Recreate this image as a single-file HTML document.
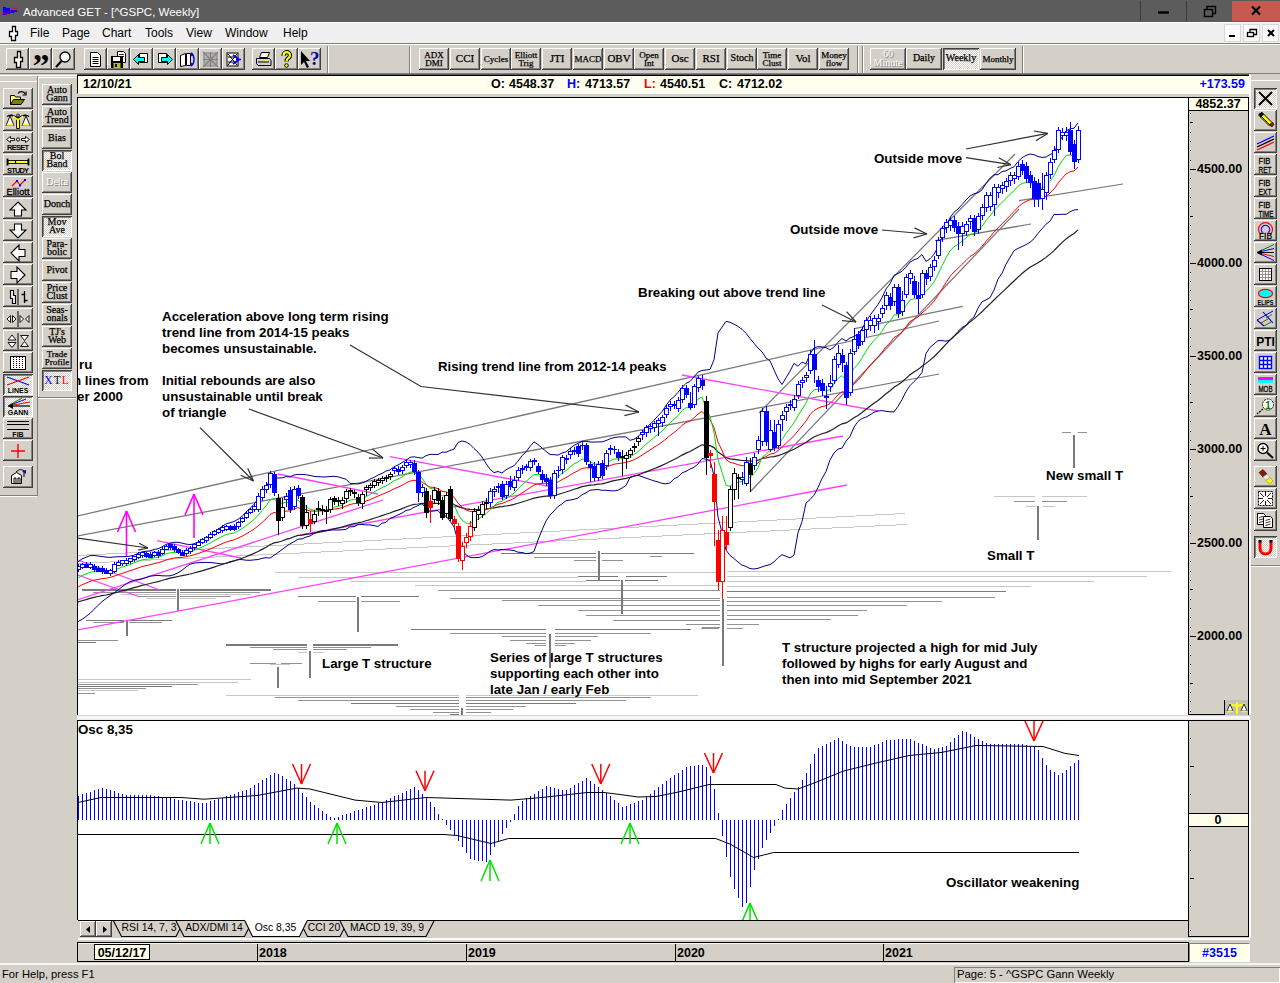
<!DOCTYPE html><html><head><meta charset="utf-8"><title>Advanced GET - [^GSPC, Weekly]</title><style>
*{box-sizing:border-box;margin:0;padding:0}
html,body{width:1280px;height:983px;overflow:hidden;background:#d4d0c8;font-family:"Liberation Sans",Arial,sans-serif;font-size:12px;color:#000}
#app{position:relative;width:1280px;height:983px;overflow:hidden;background:#d4d0c8}
#app div{position:absolute}
#app svg{position:absolute;left:0;top:0;display:block}
.b{background:#d4d0c8;box-shadow:inset -1px -1px 0 #404040,inset 1px 1px 0 #fff,inset -2px -2px 0 #808080;display:flex;align-items:center;justify-content:center;text-align:center}
.b.p{background:#ecebe6 repeating-conic-gradient(#fff 0 25%,#d4d0c8 0 50%) 0 0/2px 2px;box-shadow:inset 1px 1px 0 #404040,inset -1px -1px 0 #fff,inset 2px 2px 0 #808080}
.b svg,.b span{position:static!important}
.t{-webkit-text-stroke:0.25px #000;font-family:"Liberation Serif","DejaVu Serif",serif;font-size:10px;line-height:8.5px;letter-spacing:0;padding-bottom:1px;color:#000;white-space:nowrap}
.t.s{font-size:9px;line-height:8px}
.t.l{font-size:11px}
.t.m{font-size:10px}
.g{color:#fff;-webkit-text-stroke:0 #fff;text-shadow:1px 1px 0 #808080;}
.mi{font-size:12px;top:26px;height:16px;white-space:nowrap;font-family:"Liberation Sans",Arial,sans-serif}
.ib{font-weight:bold;font-size:12.5px;top:77px;height:15px;line-height:15px;white-space:nowrap}
.ax{font-weight:bold;font-size:12.5px;white-space:nowrap;height:14px;line-height:14px}
.sunk{box-shadow:inset 1px 1px 0 #808080,inset -1px -1px 0 #fff}
.rais{box-shadow:inset 1px 1px 0 #fff,inset -1px -1px 0 #808080}
</style></head><body><div id="app">
<div class="" style="left:0px;top:0px;width:1280px;height:22px;background:#5c5c5c"></div><div class="" style="left:0px;top:22px;width:1280px;height:1px;background:#fdfdfd"></div><svg width="20" height="22" style="left:0;top:0"><polygon points="3,7 6,7 6,8 10,8 10,10 17,10 17,12 14,12 14,13 10,13 10,14 7,14 7,15 3,15" fill="#0000ff"/><polyline points="2,14.5 4.5,12.5 6.5,14.5 13.5,7.5 15.5,9.5 17.5,7.5" fill="none" stroke="#ff0000" stroke-width="1.2" stroke-dasharray="1.2,0.6"/></svg><div class="" style="left:23px;top:4px;width:300px;height:16px;color:#fff;font-size:11.5px;line-height:16px;white-space:nowrap">Advanced GET - [^GSPC, Weekly]</div><div class="" style="left:1140px;top:1px;width:46px;height:20px;background:#5c5c5c;border-left:1px solid #3a3a3a"></div><div class="" style="left:1186px;top:1px;width:46px;height:20px;background:#5c5c5c;border-left:1px solid #3a3a3a"></div><div class="" style="left:1232px;top:1px;width:48px;height:20px;background:#c75a50"></div><svg width="140" height="22" style="left:1140px;top:0"><g stroke="#000" stroke-width="1.6" fill="none"><line x1="18" y1="12.5" x2="29" y2="12.5" stroke-width="2.4"/><rect x="64.5" y="9.5" width="8" height="7" stroke-width="1.4"/><polyline points="67,9 67,6.5 75.5,6.5 75.5,13.5 73,13.5" stroke-width="1.4"/><path d="M112 6.5 L120 14.5 M120 6.5 L112 14.5" stroke-width="2.2"/></g></svg>
<div class="" style="left:0px;top:23px;width:1280px;height:20px;background:#f0f0f0"></div><svg width="20" height="20" style="left:4px;top:23px"><path d="M8.500 3.500h3v5h2v4h-2v5h-4v-4h-2v-5h3z" fill="#fff" stroke="#000" stroke-width="1.300"/></svg><div class="mi" style="left:30px">File</div><div class="mi" style="left:62px">Page</div><div class="mi" style="left:102px">Chart</div><div class="mi" style="left:145px">Tools</div><div class="mi" style="left:186px">View</div><div class="mi" style="left:225px">Window</div><div class="mi" style="left:283px">Help</div><div class="" style="left:1224px;top:24px;width:17px;height:18px;background:#fafafa;border:1px solid #d8d8d8"></div><div class="" style="left:1243px;top:24px;width:17px;height:18px;background:#fafafa;border:1px solid #d8d8d8"></div><div class="" style="left:1262px;top:24px;width:17px;height:18px;background:#fafafa;border:1px solid #d8d8d8"></div><svg width="60" height="20" style="left:1224px;top:24px"><g stroke="#000" fill="none" stroke-width="1.6"><line x1="5" y1="12" x2="11" y2="12" stroke-width="2"/><rect x="23.5" y="8.5" width="6" height="4" stroke-width="1.3"/><polyline points="26,8 26,5.5 32.5,5.5 32.5,10.5 30,10.5" stroke-width="1.3"/><path d="M44 6 L50 12 M50 6 L44 12" stroke-width="2"/></g></svg>
<div class="" style="left:0px;top:43px;width:1280px;height:1px;background:#808080"></div><div class="" style="left:0px;top:44px;width:1280px;height:1px;background:#fff"></div><div class="" style="left:0px;top:73px;width:1280px;height:1px;background:#808080"></div><div class="" style="left:0px;top:75px;width:77px;height:1px;background:#fff"></div><div class="" style="left:77px;top:74px;width:1172px;height:1px;background:#5a5a5a"></div><div class="" style="left:327px;top:46px;width:1px;height:27px;background:#808080"></div><div class="" style="left:328px;top:46px;width:1px;height:27px;background:#fff"></div><div class="" style="left:409px;top:46px;width:1px;height:27px;background:#808080"></div><div class="" style="left:410px;top:46px;width:1px;height:27px;background:#fff"></div><div class="" style="left:857px;top:46px;width:1px;height:27px;background:#808080"></div><div class="" style="left:858px;top:46px;width:1px;height:27px;background:#fff"></div><div class="" style="left:862px;top:46px;width:1px;height:27px;background:#808080"></div><div class="" style="left:863px;top:46px;width:1px;height:27px;background:#fff"></div><div class="" style="left:1022px;top:46px;width:1px;height:27px;background:#808080"></div><div class="" style="left:1023px;top:46px;width:1px;height:27px;background:#fff"></div><div class="b" style="left:6px;top:48px;width:23px;height:22px;"><svg width="17" height="19" viewBox="0 0 17 19"><path d="M8.5 1.500h3v6h2v4h-2v6h-4v-5h-2v-5h3z" fill="#fff" stroke="#000" stroke-width="1.300"/></svg></div><div class="b" style="left:29px;top:48px;width:23px;height:22px;"><svg width="19" height="19" viewBox="0 0 19 19"><text x="1.500" y="27" font-family="Liberation Serif,serif" font-weight="bold" font-size="34">”</text></svg></div><div class="b" style="left:52px;top:48px;width:23px;height:22px;"><svg width="19" height="19" viewBox="0 0 19 19"><circle cx="11" cy="7" r="5" fill="#fff" stroke="#000" stroke-width="1.3"/><line x1="7.5" y1="11" x2="2" y2="17" stroke="#000" stroke-width="2"/></svg></div><div class="b" style="left:84px;top:48px;width:23px;height:22px;"><svg width="17" height="17" viewBox="0 0 17 17"><path d="M3.5 1.5 h7 l3 3 v11 h-10z" fill="#fff" stroke="#000"/><path d="M5.5 6.5h6M5.5 8.5h6M5.5 10.5h6M5.5 12.5h6" stroke="#000"/></svg></div><div class="b" style="left:107px;top:48px;width:23px;height:22px;"><svg width="19" height="19" viewBox="0 0 19 19"><path d="M8.500 1.500h6l2 2v9h-8z" fill="#fff" stroke="#000"/><path d="M10 4.500h5M10 6.500h5" stroke="#000" stroke-width=".8"/><rect x="2" y="6" width="12" height="12" fill="#000"/><rect x="4" y="7" width="7" height="4" fill="#fff"/><rect x="4.500" y="13" width="7" height="5" fill="#c0c000"/><rect x="6" y="14" width="2" height="3" fill="#000"/></svg></div><div class="b" style="left:130px;top:48px;width:23px;height:22px;"><svg width="19" height="19" viewBox="0 0 19 19"><path d="M7.5 3.5h8v9h-8z" fill="#fff" stroke="#000"/><path d="M1.5 9.5l5-5v3h6v4h-6v3z" fill="#00ffff" stroke="#000"/></svg></div><div class="b" style="left:153px;top:48px;width:23px;height:22px;"><svg width="19" height="19" viewBox="0 0 19 19"><path d="M3.5 3.5h8v9h-8z" fill="#fff" stroke="#000"/><path d="M17.5 9.5l-5-5v3h-6v4h6v3z" fill="#00ffff" stroke="#000"/></svg></div><div class="b" style="left:176px;top:48px;width:23px;height:22px;"><svg width="19" height="19" viewBox="0 0 19 19"><path d="M2.5 5.5l5-2v12l-5 1z" fill="#fff" stroke="#000"/><path d="M8.5 3.5h4v12h-4z" fill="#fff" stroke="#000"/><path d="M13 3c4 2 4 11 0 13M13 3l1 3M13 16l1-3" stroke="#0000ff" fill="none" stroke-width="1.4"/></svg></div><div class="b" style="left:199px;top:48px;width:23px;height:22px;"><svg width="19" height="19" viewBox="0 0 19 19"><rect x="3" y="3" width="13" height="13" fill="#b0b0b0" stroke="#808080"/><path d="M2 2l15 15M17 2l-15 15M9.5 2v15M2 9.5h15" stroke="#808080" stroke-width="1.2"/></svg></div><div class="b" style="left:222px;top:48px;width:23px;height:22px;"><svg width="19" height="19" viewBox="0 0 19 19"><rect x="3" y="3" width="11" height="13" fill="#fff" stroke="#000"/><path d="M4 4l9 11M13 4l-9 11M4 7h9M4 12h9" stroke="#000" stroke-width="1"/><path d="M9 5l6 4.5-6 4.5M12 9.5h5" stroke="#0000ff" stroke-width="1.6" fill="none"/></svg></div><div class="b" style="left:252px;top:48px;width:23px;height:22px;"><svg width="19" height="19" viewBox="0 0 19 19"><path d="M5.5 7.5l2-5h8l-2 5z" fill="#fff" stroke="#000"/><path d="M2.5 8.5h13l1.5 2v5h-13l-1.5-2z" fill="#d0d0d0" stroke="#000"/><path d="M4 12h11" stroke="#000"/><rect x="11" y="10" width="3" height="1" fill="#ffff00"/></svg></div><div class="b" style="left:275px;top:48px;width:23px;height:22px;"><svg width="15" height="19" viewBox="0 0 15 19"><path d="M4.500 6c0-5 6.500-5 6.500-.5 0 2.500-3.500 2.500-3.500 6" fill="none" stroke="#000" stroke-width="4.200"/><path d="M4.500 6c0-5 6.500-5 6.500-.5 0 2.500-3.500 2.500-3.500 6" fill="none" stroke="#ffff00" stroke-width="2.200"/><circle cx="7.500" cy="15.500" r="1.800" fill="#ffff00" stroke="#000"/></svg></div><div class="b" style="left:298px;top:48px;width:23px;height:22px;"><svg width="21" height="19" viewBox="0 0 21 19"><path d="M2 1v14l3-3 3 6 2-1-3-6h4z" fill="#000"/><text x="11" y="15" font-family="Liberation Serif,serif" font-weight="bold" font-size="19" fill="#0000a0">?</text></svg></div><div class="b" style="left:419px;top:48px;width:30px;height:22px;"><span class="t s">ADX<br>DMI</span></div><div class="b" style="left:450px;top:48px;width:30px;height:22px;"><span class="t l">CCI</span></div><div class="b" style="left:481px;top:48px;width:30px;height:22px;"><span class="t s">Cycles</span></div><div class="b" style="left:511px;top:48px;width:30px;height:22px;"><span class="t s">Elliott<br>Trig</span></div><div class="b" style="left:542px;top:48px;width:30px;height:22px;"><span class="t l">JTI</span></div><div class="b" style="left:573px;top:48px;width:30px;height:22px;"><span class="t s">MACD</span></div><div class="b" style="left:604px;top:48px;width:30px;height:22px;"><span class="t l">OBV</span></div><div class="b" style="left:634px;top:48px;width:30px;height:22px;"><span class="t s">Open<br>Int</span></div><div class="b" style="left:665px;top:48px;width:30px;height:22px;"><span class="t l">Osc</span></div><div class="b" style="left:696px;top:48px;width:30px;height:22px;"><span class="t l">RSI</span></div><div class="b" style="left:727px;top:48px;width:30px;height:22px;"><span class="t ">Stoch</span></div><div class="b" style="left:757px;top:48px;width:30px;height:22px;"><span class="t s">Time<br>Clust</span></div><div class="b" style="left:788px;top:48px;width:30px;height:22px;"><span class="t l">Vol</span></div><div class="b" style="left:819px;top:48px;width:30px;height:22px;"><span class="t s">Money<br>flow</span></div><div class="b " style="left:870px;top:48px;width:36px;height:22px;"><span class="t g">60<br>Minute</span></div><div class="b " style="left:906px;top:48px;width:36px;height:22px;"><span class="t ">Daily</span></div><div class="b p" style="left:943px;top:48px;width:36px;height:22px;"><span class="t ">Weekly</span></div><div class="b " style="left:980px;top:48px;width:36px;height:22px;"><span class="t s">Monthly</span></div>
<div class="" style="left:77px;top:75px;width:1174px;height:19px;background:#fffff0;border-left:1px solid #000;border-top:1px solid #000;border-right:2px solid #fff;border-bottom:1px solid #fff"></div><div class="ib" style="left:83px;color:#000">12/10/21</div><div class="ib" style="left:491px;color:#000">O:</div><div class="ib" style="left:509px;color:#000">4548.37</div><div class="ib" style="left:567px;color:#0000ff">H:</div><div class="ib" style="left:585px;color:#000">4713.57</div><div class="ib" style="left:644px;color:#ff0000">L:</div><div class="ib" style="left:660px;color:#000">4540.51</div><div class="ib" style="left:719px;color:#000">C:</div><div class="ib" style="left:737px;color:#000">4712.02</div><div class="ib" style="left:1145px;width:100px;text-align:right;color:#0000ff">+173.59</div>
<div class="" style="left:0px;top:81px;width:37px;height:1px;background:#fff"></div><div class="" style="left:37px;top:76px;width:1px;height:420px;background:#808080"></div><div class="" style="left:0px;top:495px;width:37px;height:1px;background:#808080"></div><div class="" style="left:0px;top:496px;width:37px;height:1px;background:#fff"></div><div class="" style="left:38px;top:77px;width:38px;height:1px;background:#fff"></div><div class="" style="left:38px;top:77px;width:1px;height:321px;background:#fff"></div><div class="" style="left:38px;top:397px;width:38px;height:1px;background:#808080"></div><div class="" style="left:38px;top:398px;width:38px;height:1px;background:#fff"></div><div class="b" style="left:3px;top:88px;width:30px;height:21px;"><svg width="24" height="18" viewBox="0 0 24 18"><path d="M4.500 14.500v-9h4l1 1.500h5v3" fill="#ffff80" stroke="#000"/><path d="M4.500 14.500l3-5h11l-3.500 5z" fill="#808000" stroke="#000"/><path d="M12 3.500c2-3 6-2 7 .5" fill="none" stroke="#000" stroke-width="1.200"/><path d="M20 1.500v3.500h-3.500" fill="none" stroke="#000" stroke-width="1.200"/></svg></div><div class="b" style="left:3px;top:110px;width:30px;height:21px;"><svg width="28" height="18" viewBox="0 0 28 18"><path d="M12.500 7v9.500h3v-9.500" fill="#ffff00" stroke="#000" stroke-width=".9"/><path d="M3 4.500c3-2.500 6-1.500 11 1.500 5-3 8-4 11-1.500" stroke="#000" fill="none" stroke-width="1.300"/><path d="M9 4l5 4 5-4" stroke="#ffff00" stroke-width="1.600" fill="none"/><path d="M6 4l-4 9.500h8zM22 4l-4 9.500h8z" fill="#fff" stroke="#000" stroke-width=".9"/><path d="M2.500 13h7M18.500 13h7" stroke="#ffff00" stroke-width="1.600"/><circle cx="14" cy="3.500" r="1.600" fill="#808080" stroke="#000" stroke-width=".6"/></svg></div><div class="b" style="left:3px;top:132px;width:30px;height:21px;"><svg width="28" height="18" viewBox="0 0 28 18"><path d="M2.500 5.500l4-3v2h4v2h-4v2zM25.500 5.500l-4-3v2h-4v2h4v2z" fill="#fff" stroke="#000" stroke-width=".9"/><circle cx="14" cy="5.500" r="1.600" fill="#fff" stroke="#000"/><text x="14" y="16" text-anchor="middle" font-family="Liberation Sans,sans-serif" font-weight="bold" font-size="7.500" textLength="22">RESET</text></svg></div><div class="b" style="left:3px;top:154px;width:30px;height:21px;"><svg width="28" height="18" viewBox="0 0 28 18"><rect x="4" y="4.500" width="20" height="3" fill="#ffff00" stroke="#000" stroke-width=".9"/><path d="M3.500 2.500v7M24.500 2.500v7" stroke="#000" stroke-width="1.800"/><path d="M11.500 4.500v3" stroke="#000" stroke-width="1.200"/><text x="14" y="16.500" text-anchor="middle" font-family="Liberation Sans,sans-serif" font-weight="bold" font-size="7.500" textLength="22">STUDY</text></svg></div><div class="b" style="left:3px;top:176px;width:30px;height:21px;"><svg width="28" height="18" viewBox="0 0 28 18"><polyline points="8,8 13,3 16,7 21,2" fill="none" stroke="#ff0000" stroke-width="1.200"/><rect x="12" y="2" width="2" height="2" fill="#0000ff"/><rect x="15" y="6.500" width="2" height="2" fill="#0000ff"/><rect x="20" y="1" width="2" height="2" fill="#0000ff"/><text x="14" y="17" text-anchor="middle" font-family="Liberation Sans,sans-serif" font-size="9" stroke="#000" stroke-width=".35" textLength="23">Elliott</text></svg></div><div class="b" style="left:3px;top:198px;width:30px;height:21px;"><svg width="24" height="18" viewBox="0 0 24 18"><path d="M12 2l8 8h-4.500v6h-7v-6h-4.500z" fill="#fff" stroke="#000" stroke-width="1.100" transform="rotate(0 12 9)"/></svg></div><div class="b" style="left:3px;top:220px;width:30px;height:21px;"><svg width="24" height="18" viewBox="0 0 24 18"><path d="M12 2l8 8h-4.500v6h-7v-6h-4.500z" fill="#fff" stroke="#000" stroke-width="1.100" transform="rotate(180 12 9)"/></svg></div><div class="b" style="left:3px;top:242px;width:30px;height:21px;"><svg width="24" height="18" viewBox="0 0 24 18"><path d="M12 2l8 8h-4.500v6h-7v-6h-4.500z" fill="#fff" stroke="#000" stroke-width="1.100" transform="rotate(270 12 9)"/></svg></div><div class="b" style="left:3px;top:264px;width:30px;height:21px;"><svg width="24" height="18" viewBox="0 0 24 18"><path d="M12 2l8 8h-4.500v6h-7v-6h-4.500z" fill="#fff" stroke="#000" stroke-width="1.100" transform="rotate(90 12 9)"/></svg></div><div class="b" style="left:3px;top:286px;width:30px;height:21px;"><svg width="26" height="18" viewBox="0 0 26 18"><path d="M5.500 2.500h3v5h2v8h-3v-5h-2z" fill="#fff" stroke="#000" stroke-width="1.200"/><path d="M13 1v16" stroke="#000"/><path d="M19.500 3v12M16.500 6.500h3M19.500 12.500h3" stroke="#000" stroke-width="1.300" fill="none"/></svg></div><div class="b" style="left:3px;top:308px;width:30px;height:21px;"><svg width="26" height="18" viewBox="0 0 26 18"><path d="M13 1v16" stroke="#000"/><path d="M2 9l3.500-3.500v7zM11 9l-3.500-3.500v7zM15 5.500v7l3.500-3.500zM24 5.500v7l-3.500-3.500z" fill="#fff" stroke="#000" stroke-width=".9"/></svg></div><div class="b" style="left:3px;top:330px;width:30px;height:21px;"><svg width="26" height="18" viewBox="0 0 26 18"><path d="M13 1v16" stroke="#000"/><path d="M3 8l4-5 4 5zM3 10.500l4 5 4-5z" fill="#fff" stroke="#000" stroke-width=".9"/><path d="M15.500 3.500h8l-4 5zM15.500 14.500h8l-4-5z" fill="#fff" stroke="#000" stroke-width=".9"/></svg></div><div class="b" style="left:3px;top:352px;width:30px;height:21px;"><svg width="24" height="18" viewBox="0 0 24 18"><rect x="4.500" y="2.500" width="15" height="13" fill="#fff" stroke="#000"/><path d="M7.500 3v12M10.500 3v12M13.500 3v12M16.500 3v12" stroke="#000" stroke-dasharray="1,1"/></svg></div><div class="b p" style="left:3px;top:374px;width:30px;height:21px;"><svg width="28" height="19" viewBox="0 0 28 19"><path d="M3 2l22 8" stroke="#0000ff" stroke-width="1.200"/><path d="M3 10l22-8" stroke="#ff0000" stroke-width="1.200"/><text x="14" y="17.500" text-anchor="middle" font-family="Liberation Sans,sans-serif" font-weight="bold" font-size="7">LINES</text></svg></div><div class="b p" style="left:3px;top:396px;width:30px;height:21px;"><svg width="28" height="19" viewBox="0 0 28 19"><path d="M4 9h22" stroke="#000" stroke-width="1.200"/><path d="M4 9l18-7" stroke="#0000ff"/><path d="M4 9l22-4" stroke="#ff0000"/><path d="M4 9l14-8" stroke="#008000"/><path d="M4 9l5-3v6z" fill="#000"/><text x="14" y="18" text-anchor="middle" font-family="Liberation Sans,sans-serif" font-weight="bold" font-size="7">GANN</text></svg></div><div class="b" style="left:3px;top:418px;width:30px;height:21px;"><svg width="28" height="19" viewBox="0 0 28 19"><path d="M3 2.500h22M3 5.500h22M3 10.500h22" stroke="#000" stroke-width="1.100"/><text x="14" y="17.500" text-anchor="middle" font-family="Liberation Sans,sans-serif" font-weight="bold" font-size="7">FIB</text></svg></div><div class="b" style="left:3px;top:440px;width:30px;height:21px;"><svg width="24" height="18" viewBox="0 0 24 18"><path d="M12 2v14M5 9h14" stroke="#ff0000" stroke-width="1.400"/></svg></div><div class="b" style="left:3px;top:466px;width:30px;height:22px;"><svg width="24" height="18" viewBox="0 0 24 18"><path d="M5.500 15.500v-8l5-3 5 3v8z" fill="#fff" stroke="#000"/><path d="M8 15v-5h2v5M12 15v-5h2v5" stroke="#000" fill="none"/><path d="M10 4c3-3 6-3 8-1v6" stroke="#000" fill="none"/><path d="M16 3l4-1v4z" fill="#0000c0"/></svg></div><div class="b " style="left:42px;top:84px;width:30px;height:21px;"><span class="t ">Auto<br>Gann</span></div><div class="b " style="left:42px;top:106px;width:30px;height:21px;"><span class="t ">Auto<br>Trend</span></div><div class="b " style="left:42px;top:128px;width:30px;height:21px;"><span class="t m">Bias</span></div><div class="b p" style="left:42px;top:150px;width:30px;height:21px;"><span class="t ">Bol<br>Band</span></div><div class="b " style="left:42px;top:172px;width:30px;height:21px;"><span class="t m g">Delta</span></div><div class="b " style="left:42px;top:194px;width:30px;height:21px;"><span class="t m">Donch</span></div><div class="b p" style="left:42px;top:216px;width:30px;height:21px;"><span class="t ">Mov<br>Ave</span></div><div class="b " style="left:42px;top:238px;width:30px;height:21px;"><span class="t ">Para-<br>bolic</span></div><div class="b " style="left:42px;top:260px;width:30px;height:21px;"><span class="t m">Pivot</span></div><div class="b " style="left:42px;top:282px;width:30px;height:21px;"><span class="t ">Price<br>Clust</span></div><div class="b " style="left:42px;top:304px;width:30px;height:21px;"><span class="t ">Seas-<br>onals</span></div><div class="b " style="left:42px;top:326px;width:30px;height:21px;"><span class="t ">TJ's<br>Web</span></div><div class="b " style="left:42px;top:348px;width:30px;height:21px;"><span class="t s">Trade<br>Profile</span></div><div class="b p" style="left:42px;top:370px;width:30px;height:21px;"><span class="t" style="font-size:11.5px;letter-spacing:1px;-webkit-text-stroke:0"><span style="color:#0000ff">X</span>T<span style="color:#ff0000">L</span></span></div>
<div class="" style="left:1249px;top:74px;width:2px;height:641px;background:#fff"></div><div class="" style="left:1251px;top:80px;width:29px;height:1px;background:#fff"></div><div class="" style="left:1251px;top:565px;width:29px;height:1px;background:#808080"></div><div class="" style="left:1251px;top:566px;width:29px;height:1px;background:#fff"></div><div class="b p" style="left:1254px;top:88px;width:23px;height:21px;"><svg width="23" height="19" viewBox="0 0 23 19"><path d="M5 3l13 13M18 3l-13 13" stroke="#000" stroke-width="2"/></svg></div><div class="b" style="left:1254px;top:110px;width:23px;height:21px;"><svg width="23" height="19" viewBox="0 0 23 19"><path d="M5 3.500l3-2 10 10-3 3-10-10z" fill="#ffff00" stroke="#000"/><path d="M4.500 3l3.500-2 2 2.500-3.500 3z" fill="#000"/><path d="M15.500 14l3-3 1.500 2.500-2 2.500z" fill="#802000" stroke="#000" stroke-width=".5"/><path d="M7 5l9.500 9.500" stroke="#000" stroke-width=".8"/></svg></div><div class="b" style="left:1254px;top:132px;width:23px;height:21px;"><svg width="23" height="19" viewBox="0 0 23 19"><path d="M3 11l17-8" stroke="#0000ff" stroke-width="1.300"/><path d="M3 14l17-8" stroke="#000" stroke-width="1.300"/><path d="M3 17l17-8" stroke="#ff0000" stroke-width="1.300"/></svg></div><div class="b" style="left:1254px;top:154px;width:23px;height:21px;"><svg width="23" height="19" viewBox="0 0 23 19"><text x="4.500" y="9" font-family="Liberation Sans,sans-serif" stroke="#000" stroke-width=".3" font-size="9" textLength="12" lengthAdjust="spacingAndGlyphs">FIB</text><text x="4.500" y="17.500" font-family="Liberation Sans,sans-serif" stroke="#000" stroke-width=".3" font-size="9" textLength="13" lengthAdjust="spacingAndGlyphs">RET</text></svg></div><div class="b" style="left:1254px;top:176px;width:23px;height:21px;"><svg width="23" height="19" viewBox="0 0 23 19"><text x="4.500" y="9" font-family="Liberation Sans,sans-serif" stroke="#000" stroke-width=".3" font-size="9" textLength="12" lengthAdjust="spacingAndGlyphs">FIB</text><text x="4.500" y="17.500" font-family="Liberation Sans,sans-serif" stroke="#000" stroke-width=".3" font-size="9" textLength="13" lengthAdjust="spacingAndGlyphs">EXT</text></svg></div><div class="b" style="left:1254px;top:198px;width:23px;height:21px;"><svg width="23" height="19" viewBox="0 0 23 19"><text x="4.500" y="9" font-family="Liberation Sans,sans-serif" stroke="#000" stroke-width=".3" font-size="9" textLength="12" lengthAdjust="spacingAndGlyphs">FIB</text><text x="4.500" y="17.500" font-family="Liberation Sans,sans-serif" stroke="#000" stroke-width=".3" font-size="9" textLength="15" lengthAdjust="spacingAndGlyphs">TIME</text></svg></div><div class="b" style="left:1254px;top:220px;width:23px;height:21px;"><svg width="23" height="19" viewBox="0 0 23 19"><path d="M6.500 13.500a7 7 0 1 1 10 0" fill="none" stroke="#ff0000" stroke-width="1.200"/><path d="M8.500 11.500a4.200 4.200 0 1 1 6 0" fill="none" stroke="#0000ff" stroke-width="1.200"/><text x="5" y="17.500" font-family="Liberation Sans,sans-serif" stroke="#000" stroke-width=".3" font-size="9" textLength="13" lengthAdjust="spacingAndGlyphs">FIB</text></svg></div><div class="b" style="left:1254px;top:242px;width:23px;height:21px;"><svg width="23" height="19" viewBox="0 0 23 19"><path d="M3 9.500l17-8" stroke="#008000"/><path d="M3 9.500l17-4" stroke="#0000ff"/><path d="M3 9.500h17" stroke="#000"/><path d="M3 9.500l17 4" stroke="#ff0000"/><path d="M3 9.500l17 8" stroke="#0000ff"/><path d="M3 9.500l5-3v6z" fill="#000"/></svg></div><div class="b" style="left:1254px;top:264px;width:23px;height:21px;"><svg width="23" height="19" viewBox="0 0 23 19"><rect x="5.500" y="3.500" width="12" height="12" fill="#fff" stroke="#000"/><path d="M8.500 4v11M11.500 4v11M14.500 4v11M6 6.500h11M6 9.500h11M6 12.500h11" stroke="#808080" stroke-width=".8"/></svg></div><div class="b" style="left:1254px;top:286px;width:23px;height:21px;"><svg width="23" height="19" viewBox="0 0 23 19"><ellipse cx="11.500" cy="6.500" rx="7" ry="4.200" fill="#00ffff" stroke="#ff0000" stroke-width="1.200"/><text x="3.500" y="18" font-family="Liberation Sans,sans-serif" font-weight="bold" font-size="7" textLength="16" lengthAdjust="spacingAndGlyphs">ELIPS</text></svg></div><div class="b" style="left:1254px;top:308px;width:23px;height:21px;"><svg width="23" height="19" viewBox="0 0 23 19"><path d="M9 3l10 11M3 11l7 6" stroke="#0000c0" stroke-width="1.100"/><path d="M3 11l16-9" stroke="#0000c0" stroke-width="1"/><path d="M7 14l7-4" stroke="#804000" stroke-width="1"/><path d="M10 17l7-4" stroke="#008000" stroke-width="1"/><path d="M12 9l6-3.500" stroke="#008080" stroke-width="1"/></svg></div><div class="b" style="left:1254px;top:330px;width:23px;height:21px;"><svg width="23" height="19" viewBox="0 0 23 19"><text x="11.500" y="14.500" text-anchor="middle" font-family="Liberation Sans,sans-serif" font-weight="bold" font-size="12">PTI</text></svg></div><div class="b" style="left:1254px;top:352px;width:23px;height:21px;"><svg width="23" height="19" viewBox="0 0 23 19"><rect x="5.500" y="3.500" width="12" height="12" fill="#ffffc0" stroke="#0000ff" stroke-width="1.400"/><path d="M9.500 4v11M13.500 4v11M6 7.500h11M6 11.500h11" stroke="#0000ff" stroke-width="1.300"/></svg></div><div class="b" style="left:1254px;top:374px;width:23px;height:21px;"><svg width="23" height="19" viewBox="0 0 23 19"><rect x="4" y="2" width="15" height="3" fill="#ff00ff"/><rect x="4" y="5" width="15" height="3" fill="#00ffff"/><text x="4.500" y="17" font-family="Liberation Sans,sans-serif" stroke="#000" stroke-width=".3" font-size="9" textLength="14" lengthAdjust="spacingAndGlyphs">MOB</text></svg></div><div class="b" style="left:1254px;top:396px;width:23px;height:21px;"><svg width="23" height="19" viewBox="0 0 23 19"><circle cx="14" cy="7.500" r="5.500" fill="#fff" stroke="#000" stroke-dasharray="2,1"/><text x="14" y="11.500" text-anchor="middle" font-family="Liberation Sans,sans-serif" font-weight="bold" font-size="10" fill="#008000">1</text><path d="M9 12l-6 5" stroke="#000" stroke-width="1.300" stroke-dasharray="2,1"/></svg></div><div class="b" style="left:1254px;top:418px;width:23px;height:21px;"><svg width="23" height="19" viewBox="0 0 23 19"><text x="11.500" y="16" text-anchor="middle" font-family="Liberation Serif,serif" font-weight="bold" font-size="17">A</text></svg></div><div class="b" style="left:1254px;top:440px;width:23px;height:21px;"><svg width="23" height="19" viewBox="0 0 23 19"><circle cx="9" cy="7.500" r="5" fill="#fff" stroke="#000" stroke-width="1.300"/><path d="M6.500 7.500h5M9 5v5" stroke="#000"/><path d="M13 11.500l6 5.500" stroke="#000" stroke-width="2"/></svg></div><div class="b" style="left:1254px;top:466px;width:23px;height:21px;"><svg width="23" height="19" viewBox="0 0 23 19"><path d="M5 5.500l4-3 4 4.500-4 3z" fill="#802000" stroke="#400000" stroke-width=".6"/><path d="M9 10l4-3 3 3.500-4 3z" fill="#e8e8e8" stroke="#808080" stroke-width=".5"/><path d="M12 13.500l4-3 3 3.500-3.500 3z" fill="#ffff00" stroke="#808000" stroke-width=".5"/></svg></div><div class="b" style="left:1254px;top:488px;width:23px;height:21px;"><svg width="23" height="19" viewBox="0 0 23 19"><rect x="4.500" y="2.500" width="14" height="14" fill="#fff" stroke="#000" stroke-dasharray="2,1"/><path d="M6 4l4 4M17 4l-4 4M6 15l4-4M17 15l-4-4M11.500 3v4M11.500 16v-4M5 9.500h4M18 9.500h-4" stroke="#000" stroke-width=".9"/></svg></div><div class="b" style="left:1254px;top:510px;width:23px;height:21px;"><svg width="23" height="19" viewBox="0 0 23 19"><path d="M3.500 2.500h6l2 2v9h-8z" fill="#fff" stroke="#000"/><path d="M5 6.500l4-1M5 9l4-1M5 11.500l4-1" stroke="#000" stroke-width=".8"/><path d="M9.500 5.500h7l2 2v9h-9z" fill="#fff" stroke="#000"/><path d="M11.500 9.500l5-1.500M11.500 12l5-1.500M11.500 14.500l5-1.500" stroke="#000" stroke-width=".8"/></svg></div><div class="b p" style="left:1254px;top:536px;width:23px;height:22px;"><svg width="23" height="19" viewBox="0 0 23 19"><path d="M6 3.500v7a5.500 5.500 0 0 0 11 0v-7" fill="none" stroke="#ff0000" stroke-width="3"/><rect x="4.500" y="2" width="3" height="2.500" fill="#000"/><rect x="15.500" y="2" width="3" height="2.500" fill="#000"/></svg></div>
<div style="left:77px;top:97px;width:1112px;height:618px;background:#fff;border-left:1px solid #000;border-top:1px solid #000"></div>
<div style="left:77px;top:720px;width:1112px;height:200px;background:#fff;border-left:1px solid #000;border-top:1px solid #000"></div>
<svg width="1280" height="983" viewBox="0 0 1280 983"><defs><clipPath id="c1"><rect x="78" y="98" width="1110" height="617"/></clipPath><clipPath id="c2"><rect x="78" y="721" width="1110" height="199"/></clipPath></defs>
<g clip-path="url(#c1)"><g shape-rendering="crispEdges"><line x1="77" y1="555.5" x2="905" y2="513.5" stroke="#c6c6c2" stroke-width="1" /><line x1="77" y1="563.5" x2="907" y2="524.5" stroke="#c6c6c2" stroke-width="1" /><rect x="82" y="589" width="94" height="1" fill="#7a7a7a"/><rect x="180" y="589" width="91" height="1" fill="#7a7a7a"/><rect x="82" y="590" width="94" height="1" fill="#7a7a7a"/><rect x="180" y="590" width="91" height="1" fill="#7a7a7a"/><rect x="93" y="592" width="83" height="1" fill="#929292"/><rect x="180" y="592" width="80" height="1" fill="#929292"/><rect x="121" y="594" width="55" height="1" fill="#c6c6c2"/><rect x="180" y="594" width="71" height="1" fill="#c6c6c2"/><rect x="138" y="596" width="38" height="1" fill="#929292"/><rect x="180" y="596" width="51" height="1" fill="#929292"/><rect x="146" y="598" width="30" height="1" fill="#c6c6c2"/><rect x="180" y="598" width="36" height="1" fill="#c6c6c2"/><rect x="177" y="589" width="2" height="22" fill="#7a7a7a"/><rect x="86" y="620" width="38" height="1" fill="#7a7a7a"/><rect x="129" y="620" width="43" height="1" fill="#7a7a7a"/><rect x="93" y="622" width="31" height="1" fill="#929292"/><rect x="129" y="622" width="33" height="1" fill="#929292"/><rect x="126" y="620" width="2" height="16" fill="#7a7a7a"/><rect x="78" y="640" width="40" height="1" fill="#929292"/><rect x="78" y="642" width="18" height="1" fill="#7a7a7a"/><rect x="226" y="644" width="81" height="1" fill="#7a7a7a"/><rect x="313" y="644" width="85" height="1" fill="#7a7a7a"/><rect x="226" y="645" width="81" height="1" fill="#7a7a7a"/><rect x="313" y="645" width="85" height="1" fill="#7a7a7a"/><rect x="250" y="647" width="57" height="1" fill="#929292"/><rect x="313" y="647" width="58" height="1" fill="#929292"/><rect x="273" y="649" width="34" height="1" fill="#929292"/><rect x="313" y="649" width="34" height="1" fill="#929292"/><rect x="298" y="652" width="9" height="1" fill="#c6c6c2"/><rect x="313" y="652" width="11" height="1" fill="#c6c6c2"/><rect x="309" y="651" width="2" height="27" fill="#7a7a7a"/><rect x="250" y="663" width="26" height="1" fill="#929292"/><rect x="281" y="663" width="21" height="1" fill="#929292"/><rect x="270" y="664" width="20" height="1" fill="#c6c6c2"/><rect x="277" y="667" width="2" height="21" fill="#7a7a7a"/><rect x="298" y="596" width="58" height="1" fill="#7a7a7a"/><rect x="361" y="596" width="58" height="1" fill="#7a7a7a"/><rect x="318" y="601" width="38" height="1" fill="#929292"/><rect x="361" y="601" width="39" height="1" fill="#929292"/><rect x="357" y="597" width="2" height="35" fill="#7a7a7a"/><rect x="275" y="572" width="441" height="1" fill="#c6c6c2"/><rect x="298" y="577" width="280" height="1" fill="#c6c6c2"/><rect x="351" y="581" width="235" height="1" fill="#c6c6c2"/><rect x="578" y="576" width="40" height="1" fill="#7a7a7a"/><rect x="626" y="576" width="41" height="1" fill="#7a7a7a"/><rect x="586" y="580" width="34" height="1" fill="#7a7a7a"/><rect x="625" y="580" width="33" height="1" fill="#7a7a7a"/><rect x="415" y="585" width="305" height="1" fill="#c6c6c2"/><rect x="438" y="590" width="282" height="1" fill="#929292"/><rect x="450" y="598" width="270" height="1" fill="#929292"/><rect x="502" y="600" width="218" height="1" fill="#929292"/><rect x="538" y="605" width="182" height="1" fill="#929292"/><rect x="578" y="610" width="142" height="1" fill="#929292"/><rect x="586" y="615" width="134" height="1" fill="#929292"/><rect x="613" y="620" width="107" height="1" fill="#929292"/><rect x="686" y="624" width="34" height="1" fill="#929292"/><rect x="702" y="627" width="18" height="1" fill="#929292"/><rect x="598" y="551" width="2" height="29" fill="#7a7a7a"/><rect x="621" y="580" width="2" height="34" fill="#7a7a7a"/><rect x="501" y="553" width="95" height="1" fill="#7a7a7a"/><rect x="601" y="553" width="93" height="1" fill="#7a7a7a"/><rect x="534" y="557" width="62" height="1" fill="#929292"/><rect x="574" y="560" width="22" height="1" fill="#929292"/><rect x="602" y="560" width="21" height="1" fill="#929292"/><rect x="78" y="679" width="173" height="1" fill="#c6c6c2"/><rect x="78" y="682" width="160" height="1" fill="#c6c6c2"/><rect x="78" y="684" width="120" height="1" fill="#929292"/><rect x="78" y="686" width="94" height="1" fill="#7a7a7a"/><rect x="78" y="688" width="68" height="1" fill="#929292"/><rect x="78" y="690" width="60" height="1" fill="#c6c6c2"/><rect x="78" y="693" width="17" height="1" fill="#929292"/><rect x="226" y="695" width="233" height="1" fill="#c6c6c2"/><rect x="275" y="697" width="184" height="1" fill="#929292"/><rect x="298" y="700" width="161" height="1" fill="#929292"/><rect x="351" y="703" width="108" height="1" fill="#7a7a7a"/><rect x="396" y="706" width="63" height="1" fill="#929292"/><rect x="410" y="709" width="49" height="1" fill="#929292"/><rect x="433" y="712" width="26" height="1" fill="#929292"/><rect x="450" y="714" width="9" height="1" fill="#7a7a7a"/><rect x="466" y="695" width="232" height="1" fill="#c6c6c2"/><rect x="466" y="697" width="185" height="1" fill="#929292"/><rect x="466" y="700" width="160" height="1" fill="#929292"/><rect x="466" y="703" width="110" height="1" fill="#7a7a7a"/><rect x="466" y="706" width="60" height="1" fill="#929292"/><rect x="466" y="709" width="47" height="1" fill="#929292"/><rect x="466" y="712" width="25" height="1" fill="#929292"/><rect x="461" y="708" width="2" height="8" fill="#7a7a7a"/><rect x="411" y="629" width="135" height="1" fill="#7a7a7a"/><rect x="555" y="629" width="136" height="1" fill="#7a7a7a"/><rect x="450" y="633" width="96" height="1" fill="#929292"/><rect x="555" y="633" width="96" height="1" fill="#929292"/><rect x="502" y="636" width="44" height="1" fill="#929292"/><rect x="555" y="636" width="43" height="1" fill="#929292"/><rect x="510" y="640" width="36" height="1" fill="#929292"/><rect x="555" y="640" width="36" height="1" fill="#929292"/><rect x="526" y="643" width="20" height="1" fill="#929292"/><rect x="555" y="643" width="20" height="1" fill="#929292"/><rect x="535" y="645" width="11" height="1" fill="#929292"/><rect x="555" y="645" width="11" height="1" fill="#929292"/><rect x="549" y="634" width="2" height="34" fill="#7a7a7a"/><rect x="650" y="556" width="12" height="1" fill="#929292"/><rect x="727" y="571" width="444" height="1" fill="#c6c6c2"/><rect x="727" y="576" width="420" height="1" fill="#c6c6c2"/><rect x="727" y="581" width="367" height="1" fill="#c6c6c2"/><rect x="727" y="586" width="304" height="1" fill="#c6c6c2"/><rect x="727" y="591" width="279" height="1" fill="#7a7a7a"/><rect x="727" y="597" width="268" height="1" fill="#929292"/><rect x="727" y="601" width="215" height="1" fill="#929292"/><rect x="727" y="605" width="180" height="1" fill="#929292"/><rect x="727" y="610" width="140" height="1" fill="#929292"/><rect x="727" y="615" width="131" height="1" fill="#929292"/><rect x="727" y="619" width="104" height="1" fill="#929292"/><rect x="727" y="624" width="32" height="1" fill="#929292"/><rect x="727" y="628" width="16" height="1" fill="#929292"/><rect x="686" y="624" width="33" height="1" fill="#929292"/><rect x="701" y="628" width="18" height="1" fill="#929292"/><rect x="722" y="599" width="2" height="67" fill="#7a7a7a"/><rect x="994" y="496" width="41" height="1" fill="#c6c6c2"/><rect x="1042" y="496" width="45" height="1" fill="#c6c6c2"/><rect x="1014" y="501" width="21" height="1" fill="#929292"/><rect x="1042" y="501" width="25" height="1" fill="#929292"/><rect x="1026" y="506" width="10" height="1" fill="#c6c6c2"/><rect x="1043" y="506" width="12" height="1" fill="#c6c6c2"/><rect x="1037" y="506" width="2" height="34" fill="#7a7a7a"/><rect x="1062" y="432" width="9" height="1" fill="#929292"/><rect x="1078" y="432" width="9" height="1" fill="#929292"/><rect x="1073" y="435" width="2" height="33" fill="#7a7a7a"/></g>
<line x1="77" y1="516" x2="939" y2="321" stroke="#787878" stroke-width="1.25" />
<line x1="77" y1="536" x2="939" y2="374" stroke="#787878" stroke-width="1.25" />
<line x1="854.5" y1="328.7" x2="962.8" y2="306.3" stroke="#787878" stroke-width="1.25" />
<line x1="759" y1="413" x2="1015" y2="154" stroke="#787878" stroke-width="1.25" />
<line x1="750" y1="492" x2="1019" y2="209" stroke="#787878" stroke-width="1.25" />
<line x1="1019" y1="200.7" x2="1123" y2="184" stroke="#787878" stroke-width="1.25" />
<line x1="935" y1="240.6" x2="1031" y2="224" stroke="#787878" stroke-width="1.25" />
<line x1="77" y1="630" x2="847" y2="485" stroke="#ff40ff" stroke-width="1.3" />
<line x1="77" y1="600" x2="383" y2="500" stroke="#ff40ff" stroke-width="1.3" />
<line x1="300" y1="535" x2="843" y2="436" stroke="#ff40ff" stroke-width="1.3" />
<line x1="682" y1="375" x2="878" y2="411" stroke="#ff40ff" stroke-width="1.3" />
<line x1="278" y1="474" x2="378" y2="494" stroke="#ff40ff" stroke-width="1.3" />
<line x1="390" y1="456.6" x2="558" y2="488" stroke="#ff40ff" stroke-width="1.3" />
<line x1="157" y1="540.7" x2="241" y2="558" stroke="#ff40ff" stroke-width="1.3" />
<line x1="78" y1="560" x2="160" y2="590" stroke="#ff40ff" stroke-width="1.3" />
<line x1="78" y1="575" x2="140" y2="597" stroke="#ff40ff" stroke-width="1.3" />
<line x1="126.5" y1="511" x2="126.5" y2="556" stroke="#ff00ff" stroke-width="1.6" />
<line x1="126.5" y1="511" x2="117.5" y2="532" stroke="#ff00ff" stroke-width="1.6" />
<line x1="126.5" y1="511" x2="135.5" y2="532" stroke="#ff00ff" stroke-width="1.6" />
<line x1="194" y1="494" x2="194" y2="538" stroke="#ff00ff" stroke-width="1.6" />
<line x1="194" y1="494" x2="185" y2="515" stroke="#ff00ff" stroke-width="1.6" />
<line x1="194" y1="494" x2="203" y2="515" stroke="#ff00ff" stroke-width="1.6" />
<polyline fill="none" stroke="#00008b" stroke-width="1"  points="78,561.9 82,558.9 86,557.3 90,555.7 94,555.5 98,556 102,556.5 106,557.1 110,557.4 114,557 118,556.7 122,556.7 126,556.6 130,556.2 134,555.1 138,553.5 142,551.8 146,551.3 150,550.9 154,549.5 158,548.7 162,546.9 166,544.5 170,543.1 174,542.3 178,542.3 182,543.1 186,544.1 190,544.6 194,543.8 198,542.2 202,540.2 206,538.1 210,535.5 214,532.5 218,529.4 222,526.4 226,523.9 230,522.8 234,521.5 238,519.3 242,516.2 246,512.3 250,508.3 254,504.3 258,499 262,493.4 266,487.6 270,479.7 274,477.4 278,478 282,477.9 286,476.7 290,477 294,475 298,474.4 302,474.4 306,474.8 310,475.4 314,476.4 318,476.7 322,476.9 326,476.9 330,476.5 334,476.3 338,476.8 342,478.1 346,479.2 350,483.4 354,483.6 358,484 362,482.9 366,481.4 370,479 374,477.5 378,475 382,473.5 386,471 390,469.9 394,466.8 398,465 402,462.6 406,460.2 410,457.3 414,456.8 418,457.5 422,458.2 426,455.7 430,454.4 434,454.4 438,454.6 442,452.2 446,452.2 450,450.5 454,449.1 458,442.5 462,441 466,441.9 470,444.4 474,448.5 478,452.2 482,457 486,463.5 490,469.2 494,472.6 498,471.5 502,473 506,469.8 510,467.5 514,465.8 518,461.1 522,455.8 526,451.8 530,446.4 534,441.8 538,444.6 542,447.9 546,451.4 550,454.5 554,454.7 558,455.1 562,453 566,451.8 570,448.5 574,445.4 578,443.4 582,441.4 586,441.3 590,442 594,442.1 598,441.9 602,441.9 606,440.6 610,438.8 614,437.6 618,437 622,436.9 626,436.9 630,440.3 634,439.2 638,436.6 642,432.7 646,428.2 650,424.3 654,420.2 658,415.8 662,411.6 666,405.6 670,400.1 674,396.8 678,392.3 682,387.5 686,383.3 690,381.5 694,376.9 698,372.1 702,370.5 706,370 710,369.4 714,359.7 718,332.9 722,327.1 726,321.4 730,322.3 734,324.2 738,326.4 742,329.3 746,333.3 750,338.4 754,343.3 758,348 762,351.8 766,358 770,360.9 774,369.8 778,378.7 782,384.5 786,377.8 790,371.1 794,363.4 798,366.2 802,362.1 806,363.8 810,353.8 814,347.9 818,346.6 822,347 826,347.6 830,349.9 834,347 838,342.2 842,338.5 846,341 850,337.9 854,336.5 858,334.3 862,328.8 866,321.5 870,315.4 874,309.9 878,304.5 882,297.7 886,289 890,283.8 894,275.3 898,273.5 902,271.2 906,267.1 910,262.1 914,259.8 918,258.3 922,254.5 926,261.4 930,258.9 934,254.2 938,247.2 942,237 946,226.6 950,217.8 954,212.2 958,209 962,204.6 966,199.9 970,196 974,193.8 978,192.8 982,189.8 986,183.5 990,178.1 994,174.8 998,174.6 1002,171.6 1006,170.8 1010,168.5 1014,166.8 1018,161.6 1022,157.7 1026,155.4 1030,154 1034,154.7 1038,156.5 1042,157.4 1046,157.1 1050,154.5 1054,153 1058,144.2 1062,137.2 1066,130.7 1070,128.9 1074,128.2 1078,122.9"/>
<polyline fill="none" stroke="#00008b" stroke-width="1"  points="78,621.6 82,619.4 86,616.5 90,613.4 94,609.4 98,605.4 102,601.7 106,598.5 110,595.7 114,592.9 118,590 122,586.9 126,584 130,581.7 134,580.3 138,579.5 142,578.8 146,577.5 150,576.2 154,575.7 158,575.4 162,575.8 166,575.9 170,575.8 174,574.7 178,572.8 182,570.3 186,567 190,564.2 194,563.2 198,562.7 202,562.5 206,562.4 210,562.5 214,562.9 218,563.5 222,563.9 226,563.3 230,561.7 234,560.8 238,559.6 242,559.6 246,560.2 250,560.3 254,559.9 258,559.5 262,558.4 266,557.7 270,558.1 274,555.3 278,552.6 282,549.5 286,546.6 290,543.9 294,541.7 298,539.1 302,538.9 306,537.1 310,536 314,533.4 318,531.8 322,530.7 326,530.6 330,530.1 334,529.9 338,530 342,529.8 346,529.3 350,526.8 354,526.7 358,524.6 362,524.4 366,524.9 370,524.9 374,525.6 378,526.5 382,523.2 386,522.3 390,518.3 394,516.8 398,514.9 402,513.1 406,510.4 410,509.7 414,507.3 418,505.6 422,503.5 426,508.2 430,511.4 434,510.9 438,510.5 442,515.3 446,516.1 450,521.1 454,526.9 458,541.4 462,549.6 466,554.8 470,557.4 474,557.6 478,557.6 482,556.6 486,554.2 490,551.3 494,549.5 498,550 502,549.5 506,549.8 510,550 514,550.6 518,552.2 522,552.5 526,553.6 530,553.2 534,551.5 538,540 542,530.1 546,521 550,515 554,511 558,506.5 562,503.9 566,500.7 570,500.1 574,499.3 578,498 582,494.8 586,492.8 590,490.2 594,489.8 598,489.5 602,490.3 606,490.3 610,490.7 614,490.9 618,490.2 622,488.1 626,485.4 630,477.5 634,475.9 638,475.3 642,476.7 646,478.1 650,479.5 654,480.9 658,481.9 662,483.3 666,483.8 670,482.9 674,478.9 678,476.9 682,472.9 686,471.3 690,469 694,467.2 698,464 702,458.5 706,459.2 710,460.4 714,475.8 718,516.9 722,532.6 726,550.1 730,555.4 734,558.6 738,562 742,565.1 746,566.5 750,568.6 754,569 758,568.3 762,566.9 766,565.5 770,564.7 774,561.9 778,557.7 782,554.7 786,556.3 790,557.8 794,555.2 798,532.7 802,521.7 806,503.1 810,499.6 814,495.2 818,487.5 822,478.5 826,471.5 830,459.9 834,453 838,449.1 842,448.1 846,441.1 850,436.5 854,427.1 858,421.5 862,418.5 866,417.1 870,414.8 874,412.3 878,411 882,410.6 886,411.3 890,411.8 894,411.9 898,406.4 902,399.6 906,391.6 910,385.6 914,381.5 918,377.6 922,372.4 926,353.5 930,347.4 934,344.1 938,340.6 942,340.6 946,341.2 950,340 954,336.6 958,331.4 962,327.6 966,325.2 970,320.3 974,317 978,308.2 982,301.8 986,299.9 990,297.6 994,290.1 998,279.1 1002,273.3 1006,264.3 1010,257.4 1014,250.7 1018,248.4 1022,246.6 1026,244.6 1030,242.3 1034,238.7 1038,233.3 1042,228.8 1046,224.2 1050,221.2 1054,214.4 1058,214.6 1062,214.2 1066,214.4 1070,211.8 1074,210 1078,209.6"/>
<polyline fill="none" stroke="#202020" stroke-width="1.2"  points="78,602 82,600.7 86,599.6 90,598.4 94,597.4 98,596.5 102,595.7 106,595 110,594.1 114,593.1 118,592 122,590.9 126,589.9 130,588.8 134,587.7 138,586.6 142,585.4 146,584.5 150,583.5 154,582.5 158,581.6 162,580.5 166,579.3 170,578.2 174,577.3 178,576.5 182,575.7 186,574.9 190,574 194,573 198,571.9 202,570.8 206,569.6 210,568.4 214,567.1 218,565.8 222,564.5 226,563.2 230,562.1 234,561 238,559.7 242,558.2 246,556.7 250,555.1 254,553.4 258,551.5 262,549.4 266,547.2 270,544.7 274,542.9 278,542.2 282,541 286,539.4 290,538.4 294,536.8 298,535.4 302,535.1 306,534.3 310,533.9 314,533.2 318,532.4 322,531.7 326,531 330,529.9 334,528.9 338,528 342,527.1 346,525.9 350,524.7 354,523.6 358,522.9 362,522 366,520.8 370,519.6 374,518.2 378,517 382,515.6 386,514.3 390,513 394,511.4 398,510.1 402,508.6 406,507 410,505.5 414,504.4 418,504 422,503.4 426,503.7 430,503.9 434,503.4 438,503.4 442,503.8 446,503.5 450,504.1 454,504.7 458,506.6 462,507.9 466,508.9 470,509.4 474,509.5 478,509.5 482,509.3 486,509.1 490,508.5 494,507.8 498,507.1 502,506.7 506,506 510,505.3 514,504.4 518,503.3 522,502 526,500.8 530,499.5 534,498.2 538,497.3 542,496.7 546,496.2 550,496.2 554,495.4 558,494.5 562,493.2 566,492 570,490.7 574,489.3 578,488.1 582,486.6 586,485.8 590,485.2 594,484.9 598,484.2 602,483.9 606,482.9 610,481.7 614,480.6 618,479.9 622,479.1 626,478.3 630,477.4 634,476.3 638,475 642,473.5 646,471.9 650,470.4 654,468.8 658,467.1 662,465.4 666,463.5 670,461.5 674,459.5 678,457.5 682,455.1 686,453.1 690,451.5 694,449.3 698,446.9 702,444.8 706,445.3 710,445.6 714,447.6 718,452.1 722,454.7 726,457.8 730,458.9 734,459.3 738,459.9 742,460.5 746,460.6 750,461.1 754,460.9 758,460.2 762,458.5 766,458 770,457 774,456.7 778,455.6 782,454.2 786,452.6 790,451 794,449.2 798,447 802,444.7 806,442.4 810,439.4 814,437 818,435.3 822,433.8 826,432.6 830,430.9 834,428.5 838,425.9 842,423.8 846,422.9 850,420.6 854,417.8 858,415.4 862,412.5 866,409.3 870,406.3 874,403.3 878,400.4 882,397.3 886,393.8 890,390.8 894,387.3 898,384.8 902,382 906,378.4 910,374.8 914,372.1 918,369.6 922,366.3 926,363.4 930,360.1 934,356.7 938,352.8 942,348.5 946,344.2 950,340 954,336.2 958,332.8 962,329.1 966,325.6 970,321.9 974,318.9 978,315.4 982,311.7 986,307.7 990,303.9 994,300 998,296.1 1002,292.4 1006,288.6 1010,284.7 1014,281 1018,277.1 1022,273.5 1026,270.3 1030,267.3 1034,265 1038,262.8 1042,260.3 1046,257.4 1050,254.1 1054,250.6 1058,246.5 1062,242.6 1066,238.9 1070,235.9 1074,233.4 1078,229.9"/>
<polyline fill="none" stroke="#ff0000" stroke-width="1"  points="78,587 82,584.8 86,583.2 90,581.3 94,580.2 98,579.4 102,578.7 106,578.2 110,577.4 114,576.2 118,574.8 122,573.4 126,572.1 130,570.8 134,569.4 138,568 142,566.5 146,565.6 150,564.8 154,563.6 158,562.8 162,561.5 166,560 170,558.9 174,558 178,557.6 182,557.4 186,556.7 190,555.8 194,554.8 198,553.5 202,552.1 206,550.7 210,549 214,547.3 218,545.5 222,543.8 226,542.1 230,540.9 234,539.8 238,538.1 242,536.2 246,534 250,531.6 254,529.1 258,526 262,522.5 266,518.9 270,514.5 274,512.5 278,513.3 282,512.7 286,511.1 290,510.9 294,508.9 298,507.6 302,509.4 306,509.6 310,511 314,511.2 318,511.1 322,510.9 326,511 330,509.9 334,509.1 338,508.5 342,507.7 346,506.1 350,504.5 354,503.6 358,503.5 362,502.6 366,501.1 370,499.6 374,497.8 378,496.1 382,494.4 386,492.7 390,491 394,488.8 398,487.2 402,485.3 406,483 410,481.1 414,480.2 418,481.4 422,481.9 426,484.9 430,487.1 434,487.4 438,488.7 442,491.4 446,491.8 450,494.4 454,497.2 458,503.1 462,507.2 466,510 470,511.4 474,511.4 478,511.3 482,510.6 486,509.8 490,508 494,506.2 498,504.2 502,503.6 506,501.7 510,500.3 514,498.3 518,495.6 522,492.9 526,490.4 530,487.6 534,485 538,483.8 542,483.4 546,483.2 550,484.4 554,483.3 558,482 562,479.6 566,477.6 570,475.1 574,472.7 578,470.9 582,468.4 586,467.9 590,467.8 594,468.8 598,468.3 602,469 606,467.5 610,465.6 614,464.2 618,463.6 622,463.1 626,462.3 630,461.2 634,459.7 638,457.6 642,455.2 646,452.5 650,450 654,447.4 658,444.8 662,442.1 666,438.9 670,435.5 674,432.5 678,429.4 682,425.4 686,422.5 690,421.1 694,417.8 698,414 702,411.4 706,415.8 710,419.6 714,427.5 718,442.1 722,450.5 726,459.5 730,462.3 734,463.3 738,464.6 742,465.8 746,465.4 750,466.4 754,465.5 758,463 762,458.1 766,456.6 770,454.1 774,453.4 778,450.6 782,447.2 786,443.4 790,439.6 794,435.7 798,430.8 802,426 806,421.1 810,414.7 814,410.5 818,408.2 822,406.6 826,405.8 830,403.6 834,399.4 838,394.9 842,391.9 846,392.5 850,388.8 854,384 858,380.4 862,375.6 866,370.3 870,365.5 874,361 878,356.9 882,352.2 886,346.7 890,342.9 894,337.6 898,335.3 902,332 906,326.7 910,321.6 914,319.1 918,317.1 922,312.9 926,309.7 930,305.6 934,301.2 938,295.4 942,289 946,282.6 950,276.6 954,272 958,268.4 962,264.3 966,260.5 970,256.5 974,254.1 978,250.5 982,246.3 986,241.4 990,237 994,232.2 998,227.9 1002,223.8 1006,219.8 1010,215.5 1014,211.6 1018,207.2 1022,203.8 1026,201.4 1030,199.7 1034,199.6 1038,199.5 1042,198.5 1046,196.3 1050,193 1054,188.9 1058,183.3 1062,178.4 1066,174 1070,171.8 1074,170.9 1078,167"/>
<polyline fill="none" stroke="#00e000" stroke-width="1"  points="78,578 82,575.5 86,574 90,572.2 94,571.7 98,571.7 102,571.8 106,572.1 110,571.7 114,570.3 118,568.7 122,567.2 126,565.8 130,564.5 134,563 138,561.4 142,559.8 146,559.3 150,559 154,557.7 158,557.3 162,555.8 166,553.9 170,552.9 174,552.4 178,552.5 182,553.1 186,552.6 190,551.7 194,550.4 198,548.7 202,547 206,545.1 210,543.1 214,540.8 218,538.6 222,536.5 226,534.6 230,533.7 234,533 238,531 242,528.6 246,525.8 250,522.7 254,519.6 258,515.3 262,510.5 266,505.9 270,499.9 274,498.7 278,502.7 282,503.5 286,502.1 290,503.5 294,500.8 298,500 302,504.7 306,506 310,509.3 314,510.1 318,510.1 322,509.9 326,510.3 330,508.2 334,507 338,506.2 342,505.1 346,502.5 350,500.2 354,499.2 358,499.9 362,498.8 366,496.7 370,494.5 374,492.1 378,489.9 382,487.7 386,485.8 390,483.6 394,480.8 398,479.2 402,477 406,474.2 410,472.1 414,472.1 418,475.9 422,477.9 426,484.2 430,488.6 434,488.9 438,491.1 442,495.9 446,495.7 450,499.9 454,504.3 458,514.2 462,520 466,523.1 470,523.5 474,521.2 478,519.2 482,516.4 486,513.8 490,509.7 494,505.9 498,502.3 502,501.3 506,498.2 510,496.1 514,493.2 518,488.9 522,485 526,481.6 530,477.9 534,474.7 538,474.2 542,475.2 546,476.4 550,480 554,478.6 558,477 562,473.3 566,470.6 570,467 574,463.9 578,462.1 582,459 586,459.6 590,461.1 594,464.1 598,464.1 602,466.2 606,463.8 610,460.9 614,459 618,458.9 622,458.7 626,458 630,456.6 634,454.6 638,451.6 642,448 646,444.2 650,440.9 654,437.6 658,434.4 662,431.3 666,427 670,422.8 674,419.3 678,415.8 682,410.6 686,407.7 690,407.7 694,403.9 698,399.2 702,396.9 706,407.9 710,416.7 714,432.2 718,459.4 722,472.2 726,485.4 730,486.1 734,483.7 738,482.5 742,481.4 746,477.9 750,477.4 754,473.7 758,467.6 762,457.3 766,454.6 770,450.1 774,449.6 778,445 782,439.5 786,433.6 790,428.2 794,422.8 798,415.8 802,409.3 806,403.1 810,394.1 814,389.8 818,389.3 822,389.6 826,391.1 830,389.6 834,384.1 838,378.4 842,375.6 846,379.8 850,374.9 854,368.4 858,364.2 862,358 866,351.1 870,345.4 874,340.5 878,336.4 882,331.2 886,324.6 890,321.3 894,315 898,314.9 902,312.2 906,305.8 910,299.8 914,298.9 918,298.8 922,294.1 926,291.4 930,286.9 934,282 938,274.3 942,265.9 946,257.9 950,251 954,246.8 958,244.5 962,241.1 966,238 970,234.4 974,234 978,230.7 982,226.3 986,220.6 990,216 994,210.7 998,206.4 1002,202.5 1006,198.6 1010,194.3 1014,190.8 1018,186.2 1022,183.4 1026,182.6 1030,182.7 1034,185.6 1038,188 1042,188.2 1046,185.8 1050,181.4 1054,175.7 1058,167.4 1062,160.9 1066,155.7 1070,155 1074,156.2 1078,151.4"/>
<g shape-rendering="crispEdges"><rect x="78" y="564" width="1" height="8" fill="#0000ff"/><rect x="76" y="566" width="5" height="4" fill="#0000ff"/><rect x="77" y="567" width="3" height="2" fill="#fff"/><rect x="82" y="563" width="1" height="6" fill="#0000ff"/><rect x="80" y="564" width="5" height="4" fill="#0000ff"/><rect x="81" y="565" width="3" height="2" fill="#fff"/><rect x="86" y="562" width="1" height="6" fill="#0000ff"/><rect x="84" y="564" width="5" height="4" fill="#0000ff"/><rect x="90" y="562" width="1" height="7" fill="#0000ff"/><rect x="88" y="564" width="5" height="4" fill="#0000ff"/><rect x="89" y="565" width="3" height="2" fill="#fff"/><rect x="94" y="564" width="1" height="8" fill="#0000ff"/><rect x="92" y="566" width="5" height="4" fill="#0000ff"/><rect x="98" y="566" width="1" height="6" fill="#0000ff"/><rect x="96" y="568" width="5" height="4" fill="#0000ff"/><rect x="102" y="566" width="1" height="8" fill="#0000ff"/><rect x="100" y="568" width="5" height="4" fill="#0000ff"/><rect x="106" y="568" width="1" height="6" fill="#0000ff"/><rect x="104" y="570" width="5" height="4" fill="#0000ff"/><rect x="110" y="569" width="1" height="7" fill="#0000ff"/><rect x="108" y="570" width="5" height="4" fill="#0000ff"/><rect x="109" y="571" width="3" height="2" fill="#fff"/><rect x="114" y="562" width="1" height="11" fill="#0000ff"/><rect x="112" y="564" width="5" height="8" fill="#0000ff"/><rect x="113" y="565" width="3" height="6" fill="#fff"/><rect x="118" y="560" width="1" height="6" fill="#0000ff"/><rect x="116" y="562" width="5" height="4" fill="#0000ff"/><rect x="117" y="563" width="3" height="2" fill="#fff"/><rect x="122" y="560" width="1" height="6" fill="#0000ff"/><rect x="120" y="560" width="5" height="4" fill="#0000ff"/><rect x="121" y="561" width="3" height="2" fill="#fff"/><rect x="126" y="558" width="1" height="8" fill="#0000ff"/><rect x="124" y="560" width="5" height="4" fill="#0000ff"/><rect x="125" y="561" width="3" height="2" fill="#fff"/><rect x="130" y="558" width="1" height="6" fill="#0000ff"/><rect x="128" y="558" width="5" height="4" fill="#0000ff"/><rect x="129" y="559" width="3" height="2" fill="#fff"/><rect x="134" y="556" width="1" height="6" fill="#0000ff"/><rect x="132" y="556" width="5" height="4" fill="#0000ff"/><rect x="133" y="557" width="3" height="2" fill="#fff"/><rect x="138" y="552" width="1" height="7" fill="#0000ff"/><rect x="136" y="554" width="5" height="4" fill="#0000ff"/><rect x="137" y="555" width="3" height="2" fill="#fff"/><rect x="142" y="552" width="1" height="6" fill="#0000ff"/><rect x="140" y="552" width="5" height="4" fill="#0000ff"/><rect x="141" y="553" width="3" height="2" fill="#fff"/><rect x="146" y="552" width="1" height="6" fill="#0000ff"/><rect x="144" y="553" width="5" height="4" fill="#0000ff"/><rect x="150" y="552" width="1" height="6" fill="#0000ff"/><rect x="148" y="554" width="5" height="4" fill="#0000ff"/><rect x="154" y="551" width="1" height="6" fill="#0000ff"/><rect x="152" y="552" width="5" height="4" fill="#0000ff"/><rect x="153" y="553" width="3" height="2" fill="#fff"/><rect x="158" y="550" width="1" height="8" fill="#0000ff"/><rect x="156" y="552" width="5" height="4" fill="#0000ff"/><rect x="162" y="547" width="1" height="8" fill="#0000ff"/><rect x="160" y="549" width="5" height="5" fill="#0000ff"/><rect x="161" y="550" width="3" height="3" fill="#fff"/><rect x="166" y="544" width="1" height="6" fill="#0000ff"/><rect x="164" y="546" width="5" height="4" fill="#0000ff"/><rect x="165" y="547" width="3" height="2" fill="#fff"/><rect x="170" y="544" width="1" height="6" fill="#0000ff"/><rect x="168" y="544" width="5" height="4" fill="#0000ff"/><rect x="174" y="544" width="1" height="8" fill="#0000ff"/><rect x="172" y="546" width="5" height="4" fill="#0000ff"/><rect x="178" y="548" width="1" height="6" fill="#0000ff"/><rect x="176" y="549" width="5" height="4" fill="#0000ff"/><rect x="182" y="550" width="1" height="6" fill="#0000ff"/><rect x="180" y="552" width="5" height="4" fill="#0000ff"/><rect x="186" y="548" width="1" height="8" fill="#0000ff"/><rect x="184" y="550" width="5" height="4" fill="#0000ff"/><rect x="185" y="551" width="3" height="2" fill="#fff"/><rect x="190" y="546" width="1" height="8" fill="#0000ff"/><rect x="188" y="548" width="5" height="4" fill="#0000ff"/><rect x="189" y="549" width="3" height="2" fill="#fff"/><rect x="194" y="544" width="1" height="6" fill="#0000ff"/><rect x="192" y="544" width="5" height="4" fill="#0000ff"/><rect x="193" y="545" width="3" height="2" fill="#fff"/><rect x="198" y="540" width="1" height="6" fill="#0000ff"/><rect x="196" y="542" width="5" height="4" fill="#0000ff"/><rect x="197" y="543" width="3" height="2" fill="#fff"/><rect x="202" y="538" width="1" height="6" fill="#0000ff"/><rect x="200" y="539" width="5" height="4" fill="#0000ff"/><rect x="201" y="540" width="3" height="2" fill="#fff"/><rect x="206" y="536" width="1" height="7" fill="#0000ff"/><rect x="204" y="537" width="5" height="4" fill="#0000ff"/><rect x="205" y="538" width="3" height="2" fill="#fff"/><rect x="210" y="532" width="1" height="7" fill="#0000ff"/><rect x="208" y="534" width="5" height="4" fill="#0000ff"/><rect x="209" y="535" width="3" height="2" fill="#fff"/><rect x="214" y="530" width="1" height="6" fill="#0000ff"/><rect x="212" y="531" width="5" height="4" fill="#0000ff"/><rect x="213" y="532" width="3" height="2" fill="#fff"/><rect x="218" y="528" width="1" height="6" fill="#0000ff"/><rect x="216" y="529" width="5" height="4" fill="#0000ff"/><rect x="217" y="530" width="3" height="2" fill="#fff"/><rect x="222" y="525" width="1" height="8" fill="#0000ff"/><rect x="220" y="527" width="5" height="4" fill="#0000ff"/><rect x="221" y="528" width="3" height="2" fill="#fff"/><rect x="226" y="525" width="1" height="6" fill="#0000ff"/><rect x="224" y="526" width="5" height="4" fill="#0000ff"/><rect x="225" y="527" width="3" height="2" fill="#fff"/><rect x="230" y="525" width="1" height="6" fill="#0000ff"/><rect x="228" y="526" width="5" height="4" fill="#0000ff"/><rect x="234" y="524" width="1" height="7" fill="#0000ff"/><rect x="232" y="526" width="5" height="4" fill="#0000ff"/><rect x="238" y="521" width="1" height="8" fill="#0000ff"/><rect x="236" y="522" width="5" height="5" fill="#0000ff"/><rect x="237" y="523" width="3" height="3" fill="#fff"/><rect x="242" y="517" width="1" height="6" fill="#0000ff"/><rect x="240" y="518" width="5" height="4" fill="#0000ff"/><rect x="241" y="519" width="3" height="2" fill="#fff"/><rect x="246" y="511" width="1" height="8" fill="#0000ff"/><rect x="244" y="513" width="5" height="5" fill="#0000ff"/><rect x="245" y="514" width="3" height="3" fill="#fff"/><rect x="250" y="508" width="1" height="6" fill="#0000ff"/><rect x="248" y="509" width="5" height="4" fill="#0000ff"/><rect x="249" y="510" width="3" height="2" fill="#fff"/><rect x="254" y="504" width="1" height="8" fill="#0000ff"/><rect x="252" y="506" width="5" height="4" fill="#0000ff"/><rect x="253" y="507" width="3" height="2" fill="#fff"/><rect x="258" y="493" width="1" height="19" fill="#0000ff"/><rect x="256" y="496" width="5" height="14" fill="#0000ff"/><rect x="257" y="497" width="3" height="12" fill="#fff"/><rect x="262" y="486" width="1" height="15" fill="#0000ff"/><rect x="260" y="489" width="5" height="9" fill="#0000ff"/><rect x="261" y="490" width="3" height="7" fill="#fff"/><rect x="266" y="482" width="1" height="11" fill="#0000ff"/><rect x="264" y="485" width="5" height="5" fill="#0000ff"/><rect x="265" y="486" width="3" height="3" fill="#fff"/><rect x="270" y="471" width="1" height="17" fill="#0000ff"/><rect x="268" y="473" width="5" height="12" fill="#0000ff"/><rect x="269" y="474" width="3" height="10" fill="#fff"/><rect x="274" y="472" width="1" height="24" fill="#0000ff"/><rect x="272" y="474" width="5" height="19" fill="#0000ff"/><rect x="278" y="494" width="1" height="41" fill="#000000"/><rect x="276" y="498" width="5" height="23" fill="#000000"/><rect x="282" y="498" width="1" height="23" fill="#000000"/><rect x="280" y="507" width="5" height="11" fill="#000000"/><rect x="281" y="508" width="3" height="9" fill="#fff"/><rect x="286" y="493" width="1" height="14" fill="#0000ff"/><rect x="284" y="496" width="5" height="4" fill="#0000ff"/><rect x="285" y="497" width="3" height="2" fill="#fff"/><rect x="290" y="487" width="1" height="26" fill="#0000ff"/><rect x="288" y="490" width="5" height="20" fill="#0000ff"/><rect x="294" y="486" width="1" height="24" fill="#0000ff"/><rect x="292" y="489" width="5" height="18" fill="#0000ff"/><rect x="293" y="490" width="3" height="16" fill="#fff"/><rect x="298" y="485" width="1" height="14" fill="#0000ff"/><rect x="296" y="488" width="5" height="8" fill="#0000ff"/><rect x="302" y="495" width="1" height="34" fill="#000000"/><rect x="300" y="497" width="5" height="29" fill="#000000"/><rect x="306" y="505" width="1" height="24" fill="#000000"/><rect x="304" y="512" width="5" height="14" fill="#000000"/><rect x="305" y="513" width="3" height="12" fill="#fff"/><rect x="310" y="511" width="1" height="21" fill="#ff0000"/><rect x="308" y="519" width="5" height="5" fill="#ff0000"/><rect x="314" y="510" width="1" height="14" fill="#000000"/><rect x="312" y="514" width="5" height="8" fill="#000000"/><rect x="313" y="515" width="3" height="6" fill="#fff"/><rect x="318" y="501" width="1" height="15" fill="#000000"/><rect x="316" y="508" width="5" height="2" fill="#000000"/><rect x="322" y="505" width="1" height="10" fill="#000000"/><rect x="320" y="509" width="5" height="2" fill="#000000"/><rect x="326" y="506" width="1" height="18" fill="#000000"/><rect x="324" y="510" width="5" height="2" fill="#000000"/><rect x="330" y="497" width="1" height="16" fill="#000000"/><rect x="328" y="499" width="5" height="11" fill="#000000"/><rect x="329" y="500" width="3" height="9" fill="#fff"/><rect x="334" y="496" width="1" height="9" fill="#000000"/><rect x="332" y="498" width="5" height="4" fill="#000000"/><rect x="338" y="497" width="1" height="9" fill="#000000"/><rect x="336" y="500" width="5" height="2" fill="#000000"/><rect x="342" y="497" width="1" height="12" fill="#000000"/><rect x="340" y="500" width="5" height="4" fill="#000000"/><rect x="341" y="501" width="3" height="2" fill="#fff"/><rect x="346" y="489" width="1" height="14" fill="#000000"/><rect x="344" y="491" width="5" height="8" fill="#000000"/><rect x="345" y="492" width="3" height="6" fill="#fff"/><rect x="350" y="488" width="1" height="8" fill="#000000"/><rect x="348" y="490" width="5" height="2" fill="#000000"/><rect x="354" y="490" width="1" height="8" fill="#000000"/><rect x="352" y="492" width="5" height="2" fill="#000000"/><rect x="358" y="494" width="1" height="12" fill="#000000"/><rect x="356" y="497" width="5" height="6" fill="#000000"/><rect x="362" y="492" width="1" height="17" fill="#000000"/><rect x="360" y="494" width="5" height="10" fill="#000000"/><rect x="361" y="495" width="3" height="8" fill="#fff"/><rect x="366" y="485" width="1" height="11" fill="#000000"/><rect x="364" y="487" width="5" height="3" fill="#000000"/><rect x="365" y="488" width="3" height="1" fill="#fff"/><rect x="370" y="483" width="1" height="8" fill="#000000"/><rect x="368" y="485" width="5" height="3" fill="#000000"/><rect x="369" y="486" width="3" height="1" fill="#fff"/><rect x="374" y="479" width="1" height="9" fill="#000000"/><rect x="372" y="481" width="5" height="5" fill="#000000"/><rect x="373" y="482" width="3" height="3" fill="#fff"/><rect x="378" y="478" width="1" height="8" fill="#000000"/><rect x="376" y="480" width="5" height="3" fill="#000000"/><rect x="377" y="481" width="3" height="1" fill="#fff"/><rect x="382" y="476" width="1" height="8" fill="#000000"/><rect x="380" y="478" width="5" height="3" fill="#000000"/><rect x="381" y="479" width="3" height="1" fill="#fff"/><rect x="386" y="475" width="1" height="7" fill="#000000"/><rect x="384" y="477" width="5" height="2" fill="#000000"/><rect x="390" y="472" width="1" height="8" fill="#000000"/><rect x="388" y="474" width="5" height="3" fill="#000000"/><rect x="389" y="475" width="3" height="1" fill="#fff"/><rect x="394" y="466" width="1" height="8" fill="#0000ff"/><rect x="392" y="468" width="5" height="3" fill="#0000ff"/><rect x="393" y="469" width="3" height="1" fill="#fff"/><rect x="398" y="466" width="1" height="9" fill="#0000ff"/><rect x="396" y="469" width="5" height="3" fill="#0000ff"/><rect x="402" y="465" width="1" height="9" fill="#0000ff"/><rect x="400" y="467" width="5" height="4" fill="#0000ff"/><rect x="401" y="468" width="3" height="2" fill="#fff"/><rect x="406" y="459" width="1" height="9" fill="#0000ff"/><rect x="404" y="462" width="5" height="4" fill="#0000ff"/><rect x="405" y="463" width="3" height="2" fill="#fff"/><rect x="410" y="460" width="1" height="8" fill="#0000ff"/><rect x="408" y="462" width="5" height="3" fill="#0000ff"/><rect x="409" y="463" width="3" height="1" fill="#fff"/><rect x="414" y="460" width="1" height="15" fill="#0000ff"/><rect x="412" y="463" width="5" height="9" fill="#0000ff"/><rect x="418" y="470" width="1" height="32" fill="#0000ff"/><rect x="416" y="472" width="5" height="21" fill="#0000ff"/><rect x="422" y="484" width="1" height="13" fill="#0000ff"/><rect x="420" y="487" width="5" height="6" fill="#0000ff"/><rect x="421" y="488" width="3" height="4" fill="#fff"/><rect x="426" y="488" width="1" height="30" fill="#000000"/><rect x="424" y="491" width="5" height="22" fill="#000000"/><rect x="430" y="495" width="1" height="28" fill="#ff0000"/><rect x="428" y="501" width="5" height="7" fill="#ff0000"/><rect x="434" y="487" width="1" height="17" fill="#000000"/><rect x="432" y="490" width="5" height="10" fill="#000000"/><rect x="433" y="491" width="3" height="8" fill="#fff"/><rect x="438" y="488" width="1" height="17" fill="#000000"/><rect x="436" y="491" width="5" height="10" fill="#000000"/><rect x="442" y="497" width="1" height="23" fill="#000000"/><rect x="440" y="500" width="5" height="18" fill="#000000"/><rect x="446" y="492" width="1" height="26" fill="#000000"/><rect x="444" y="495" width="5" height="19" fill="#000000"/><rect x="445" y="496" width="3" height="17" fill="#fff"/><rect x="450" y="486" width="1" height="35" fill="#000000"/><rect x="448" y="489" width="5" height="30" fill="#000000"/><rect x="454" y="516" width="1" height="11" fill="#ff0000"/><rect x="452" y="519" width="5" height="5" fill="#ff0000"/><rect x="458" y="523" width="1" height="39" fill="#ff0000"/><rect x="456" y="526" width="5" height="33" fill="#ff0000"/><rect x="462" y="542" width="1" height="28" fill="#ff0000"/><rect x="460" y="546" width="5" height="15" fill="#ff0000"/><rect x="461" y="547" width="3" height="13" fill="#fff"/><rect x="466" y="533" width="1" height="15" fill="#ff0000"/><rect x="464" y="537" width="5" height="6" fill="#ff0000"/><rect x="465" y="538" width="3" height="4" fill="#fff"/><rect x="470" y="521" width="1" height="20" fill="#ff0000"/><rect x="468" y="526" width="5" height="11" fill="#ff0000"/><rect x="469" y="527" width="3" height="9" fill="#fff"/><rect x="474" y="508" width="1" height="23" fill="#000000"/><rect x="472" y="511" width="5" height="17" fill="#000000"/><rect x="473" y="512" width="3" height="15" fill="#fff"/><rect x="478" y="506" width="1" height="14" fill="#000000"/><rect x="476" y="510" width="5" height="5" fill="#000000"/><rect x="477" y="511" width="3" height="3" fill="#fff"/><rect x="482" y="501" width="1" height="17" fill="#000000"/><rect x="480" y="504" width="5" height="11" fill="#000000"/><rect x="481" y="505" width="3" height="9" fill="#fff"/><rect x="486" y="498" width="1" height="11" fill="#000000"/><rect x="484" y="502" width="5" height="2" fill="#000000"/><rect x="490" y="488" width="1" height="19" fill="#0000ff"/><rect x="488" y="491" width="5" height="12" fill="#0000ff"/><rect x="489" y="492" width="3" height="10" fill="#fff"/><rect x="494" y="486" width="1" height="11" fill="#0000ff"/><rect x="492" y="489" width="5" height="3" fill="#0000ff"/><rect x="493" y="490" width="3" height="1" fill="#fff"/><rect x="498" y="483" width="1" height="10" fill="#0000ff"/><rect x="496" y="486" width="5" height="2" fill="#0000ff"/><rect x="502" y="481" width="1" height="19" fill="#0000ff"/><rect x="500" y="484" width="5" height="13" fill="#0000ff"/><rect x="506" y="481" width="1" height="18" fill="#0000ff"/><rect x="504" y="484" width="5" height="12" fill="#0000ff"/><rect x="505" y="485" width="3" height="10" fill="#fff"/><rect x="510" y="476" width="1" height="14" fill="#0000ff"/><rect x="508" y="481" width="5" height="6" fill="#0000ff"/><rect x="514" y="476" width="1" height="15" fill="#0000ff"/><rect x="512" y="480" width="5" height="8" fill="#0000ff"/><rect x="513" y="481" width="3" height="6" fill="#fff"/><rect x="518" y="467" width="1" height="14" fill="#0000ff"/><rect x="516" y="470" width="5" height="8" fill="#0000ff"/><rect x="517" y="471" width="3" height="6" fill="#fff"/><rect x="522" y="465" width="1" height="9" fill="#0000ff"/><rect x="520" y="468" width="5" height="2" fill="#0000ff"/><rect x="526" y="464" width="1" height="7" fill="#0000ff"/><rect x="524" y="466" width="5" height="2" fill="#0000ff"/><rect x="530" y="459" width="1" height="12" fill="#0000ff"/><rect x="528" y="461" width="5" height="7" fill="#0000ff"/><rect x="529" y="462" width="3" height="5" fill="#fff"/><rect x="534" y="458" width="1" height="7" fill="#0000ff"/><rect x="532" y="460" width="5" height="2" fill="#0000ff"/><rect x="538" y="463" width="1" height="11" fill="#0000ff"/><rect x="536" y="466" width="5" height="6" fill="#0000ff"/><rect x="542" y="470" width="1" height="13" fill="#0000ff"/><rect x="540" y="474" width="5" height="6" fill="#0000ff"/><rect x="546" y="474" width="1" height="12" fill="#0000ff"/><rect x="544" y="478" width="5" height="4" fill="#0000ff"/><rect x="550" y="477" width="1" height="22" fill="#0000ff"/><rect x="548" y="480" width="5" height="16" fill="#0000ff"/><rect x="554" y="470" width="1" height="29" fill="#0000ff"/><rect x="552" y="473" width="5" height="23" fill="#0000ff"/><rect x="553" y="474" width="3" height="21" fill="#fff"/><rect x="558" y="466" width="1" height="12" fill="#0000ff"/><rect x="556" y="470" width="5" height="1" fill="#0000ff"/><rect x="562" y="455" width="1" height="19" fill="#0000ff"/><rect x="560" y="457" width="5" height="13" fill="#0000ff"/><rect x="561" y="458" width="3" height="11" fill="#fff"/><rect x="566" y="455" width="1" height="9" fill="#0000ff"/><rect x="564" y="458" width="5" height="2" fill="#0000ff"/><rect x="570" y="448" width="1" height="11" fill="#0000ff"/><rect x="568" y="451" width="5" height="4" fill="#0000ff"/><rect x="569" y="452" width="3" height="2" fill="#fff"/><rect x="574" y="447" width="1" height="8" fill="#0000ff"/><rect x="572" y="450" width="5" height="2" fill="#0000ff"/><rect x="578" y="444" width="1" height="13" fill="#0000ff"/><rect x="576" y="446" width="5" height="8" fill="#0000ff"/><rect x="582" y="442" width="1" height="8" fill="#0000ff"/><rect x="580" y="445" width="5" height="1" fill="#0000ff"/><rect x="586" y="443" width="1" height="22" fill="#0000ff"/><rect x="584" y="445" width="5" height="17" fill="#0000ff"/><rect x="590" y="461" width="1" height="21" fill="#0000ff"/><rect x="588" y="464" width="5" height="4" fill="#0000ff"/><rect x="594" y="462" width="1" height="19" fill="#0000ff"/><rect x="592" y="466" width="5" height="12" fill="#0000ff"/><rect x="598" y="461" width="1" height="20" fill="#0000ff"/><rect x="596" y="464" width="5" height="14" fill="#0000ff"/><rect x="597" y="465" width="3" height="12" fill="#fff"/><rect x="602" y="460" width="1" height="19" fill="#0000ff"/><rect x="600" y="463" width="5" height="13" fill="#0000ff"/><rect x="606" y="450" width="1" height="20" fill="#0000ff"/><rect x="604" y="453" width="5" height="13" fill="#0000ff"/><rect x="605" y="454" width="3" height="11" fill="#fff"/><rect x="610" y="445" width="1" height="10" fill="#0000ff"/><rect x="608" y="448" width="5" height="2" fill="#0000ff"/><rect x="614" y="446" width="1" height="8" fill="#0000ff"/><rect x="612" y="449" width="5" height="1" fill="#0000ff"/><rect x="618" y="449" width="1" height="12" fill="#0000ff"/><rect x="616" y="452" width="5" height="6" fill="#0000ff"/><rect x="622" y="450" width="1" height="26" fill="#000000"/><rect x="620" y="456" width="5" height="2" fill="#000000"/><rect x="626" y="452" width="1" height="17" fill="#000000"/><rect x="624" y="455" width="5" height="4" fill="#000000"/><rect x="625" y="456" width="3" height="2" fill="#fff"/><rect x="630" y="448" width="1" height="10" fill="#000000"/><rect x="628" y="450" width="5" height="5" fill="#000000"/><rect x="629" y="451" width="3" height="3" fill="#fff"/><rect x="634" y="443" width="1" height="9" fill="#000000"/><rect x="632" y="446" width="5" height="2" fill="#000000"/><rect x="638" y="436" width="1" height="10" fill="#000000"/><rect x="636" y="438" width="5" height="4" fill="#000000"/><rect x="637" y="439" width="3" height="2" fill="#fff"/><rect x="642" y="430" width="1" height="10" fill="#0000ff"/><rect x="640" y="432" width="5" height="3" fill="#0000ff"/><rect x="641" y="433" width="3" height="1" fill="#fff"/><rect x="646" y="425" width="1" height="12" fill="#0000ff"/><rect x="644" y="427" width="5" height="6" fill="#0000ff"/><rect x="645" y="428" width="3" height="4" fill="#fff"/><rect x="650" y="424" width="1" height="9" fill="#0000ff"/><rect x="648" y="426" width="5" height="3" fill="#0000ff"/><rect x="649" y="427" width="3" height="1" fill="#fff"/><rect x="654" y="421" width="1" height="11" fill="#0000ff"/><rect x="652" y="423" width="5" height="5" fill="#0000ff"/><rect x="653" y="424" width="3" height="3" fill="#fff"/><rect x="658" y="418" width="1" height="18" fill="#0000ff"/><rect x="656" y="420" width="5" height="4" fill="#0000ff"/><rect x="657" y="421" width="3" height="2" fill="#fff"/><rect x="662" y="415" width="1" height="12" fill="#0000ff"/><rect x="660" y="417" width="5" height="6" fill="#0000ff"/><rect x="661" y="418" width="3" height="4" fill="#fff"/><rect x="666" y="405" width="1" height="13" fill="#0000ff"/><rect x="664" y="408" width="5" height="7" fill="#0000ff"/><rect x="665" y="409" width="3" height="5" fill="#fff"/><rect x="670" y="401" width="1" height="10" fill="#0000ff"/><rect x="668" y="404" width="5" height="3" fill="#0000ff"/><rect x="669" y="405" width="3" height="1" fill="#fff"/><rect x="674" y="401" width="1" height="8" fill="#0000ff"/><rect x="672" y="404" width="5" height="2" fill="#0000ff"/><rect x="678" y="397" width="1" height="15" fill="#0000ff"/><rect x="676" y="400" width="5" height="9" fill="#0000ff"/><rect x="677" y="401" width="3" height="7" fill="#fff"/><rect x="682" y="385" width="1" height="18" fill="#0000ff"/><rect x="680" y="388" width="5" height="12" fill="#0000ff"/><rect x="681" y="389" width="3" height="10" fill="#fff"/><rect x="686" y="385" width="1" height="13" fill="#0000ff"/><rect x="684" y="388" width="5" height="7" fill="#0000ff"/><rect x="690" y="392" width="1" height="18" fill="#0000ff"/><rect x="688" y="403" width="5" height="5" fill="#0000ff"/><rect x="694" y="384" width="1" height="24" fill="#0000ff"/><rect x="692" y="386" width="5" height="19" fill="#0000ff"/><rect x="693" y="387" width="3" height="17" fill="#fff"/><rect x="698" y="376" width="1" height="16" fill="#0000ff"/><rect x="696" y="378" width="5" height="10" fill="#0000ff"/><rect x="697" y="379" width="3" height="8" fill="#fff"/><rect x="702" y="375" width="1" height="15" fill="#0000ff"/><rect x="700" y="380" width="5" height="6" fill="#0000ff"/><rect x="706" y="396" width="1" height="79" fill="#000000"/><rect x="704" y="401" width="5" height="57" fill="#000000"/><rect x="710" y="450" width="1" height="18" fill="#ff0000"/><rect x="708" y="453" width="5" height="3" fill="#ff0000"/><rect x="714" y="462" width="1" height="84" fill="#ff0000"/><rect x="712" y="474" width="5" height="28" fill="#ff0000"/><rect x="718" y="530" width="1" height="60" fill="#ff0000"/><rect x="716" y="540" width="5" height="42" fill="#ff0000"/><rect x="722" y="516" width="1" height="83" fill="#ff0000"/><rect x="720" y="530" width="5" height="52" fill="#ff0000"/><rect x="721" y="531" width="3" height="50" fill="#fff"/><rect x="726" y="516" width="1" height="35" fill="#ff0000"/><rect x="724" y="532" width="5" height="13" fill="#ff0000"/><rect x="730" y="486" width="1" height="45" fill="#000000"/><rect x="728" y="489" width="5" height="39" fill="#000000"/><rect x="729" y="490" width="3" height="37" fill="#fff"/><rect x="734" y="468" width="1" height="32" fill="#000000"/><rect x="732" y="473" width="5" height="17" fill="#000000"/><rect x="733" y="474" width="3" height="15" fill="#fff"/><rect x="738" y="474" width="1" height="25" fill="#000000"/><rect x="736" y="477" width="5" height="2" fill="#000000"/><rect x="742" y="472" width="1" height="13" fill="#0000ff"/><rect x="740" y="477" width="5" height="3" fill="#0000ff"/><rect x="741" y="478" width="3" height="1" fill="#fff"/><rect x="746" y="457" width="1" height="29" fill="#0000ff"/><rect x="744" y="462" width="5" height="22" fill="#0000ff"/><rect x="745" y="463" width="3" height="20" fill="#fff"/><rect x="750" y="458" width="1" height="34" fill="#000000"/><rect x="748" y="463" width="5" height="12" fill="#000000"/><rect x="754" y="453" width="1" height="17" fill="#0000ff"/><rect x="752" y="457" width="5" height="9" fill="#0000ff"/><rect x="753" y="458" width="3" height="7" fill="#fff"/><rect x="758" y="436" width="1" height="18" fill="#0000ff"/><rect x="756" y="440" width="5" height="10" fill="#0000ff"/><rect x="757" y="441" width="3" height="8" fill="#fff"/><rect x="762" y="408" width="1" height="38" fill="#0000ff"/><rect x="760" y="411" width="5" height="31" fill="#0000ff"/><rect x="761" y="412" width="3" height="29" fill="#fff"/><rect x="766" y="406" width="1" height="40" fill="#0000ff"/><rect x="764" y="411" width="5" height="31" fill="#0000ff"/><rect x="770" y="420" width="1" height="32" fill="#0000ff"/><rect x="768" y="430" width="5" height="20" fill="#0000ff"/><rect x="769" y="431" width="3" height="18" fill="#fff"/><rect x="774" y="420" width="1" height="31" fill="#0000ff"/><rect x="772" y="432" width="5" height="16" fill="#0000ff"/><rect x="778" y="420" width="1" height="29" fill="#0000ff"/><rect x="776" y="424" width="5" height="22" fill="#0000ff"/><rect x="777" y="425" width="3" height="20" fill="#fff"/><rect x="782" y="411" width="1" height="20" fill="#0000ff"/><rect x="780" y="415" width="5" height="5" fill="#0000ff"/><rect x="781" y="416" width="3" height="3" fill="#fff"/><rect x="786" y="404" width="1" height="17" fill="#0000ff"/><rect x="784" y="407" width="5" height="5" fill="#0000ff"/><rect x="785" y="408" width="3" height="3" fill="#fff"/><rect x="790" y="400" width="1" height="10" fill="#0000ff"/><rect x="788" y="404" width="5" height="2" fill="#0000ff"/><rect x="794" y="395" width="1" height="16" fill="#0000ff"/><rect x="792" y="399" width="5" height="9" fill="#0000ff"/><rect x="793" y="400" width="3" height="7" fill="#fff"/><rect x="798" y="381" width="1" height="18" fill="#0000ff"/><rect x="796" y="384" width="5" height="12" fill="#0000ff"/><rect x="797" y="385" width="3" height="10" fill="#fff"/><rect x="802" y="377" width="1" height="11" fill="#0000ff"/><rect x="800" y="380" width="5" height="3" fill="#0000ff"/><rect x="801" y="381" width="3" height="1" fill="#fff"/><rect x="806" y="372" width="1" height="10" fill="#0000ff"/><rect x="804" y="375" width="5" height="3" fill="#0000ff"/><rect x="805" y="376" width="3" height="1" fill="#fff"/><rect x="810" y="350" width="1" height="24" fill="#0000ff"/><rect x="808" y="354" width="5" height="17" fill="#0000ff"/><rect x="809" y="355" width="3" height="15" fill="#fff"/><rect x="814" y="340" width="1" height="43" fill="#0000ff"/><rect x="812" y="354" width="5" height="16" fill="#0000ff"/><rect x="818" y="376" width="1" height="16" fill="#0000ff"/><rect x="816" y="380" width="5" height="7" fill="#0000ff"/><rect x="822" y="379" width="1" height="17" fill="#0000ff"/><rect x="820" y="383" width="5" height="8" fill="#0000ff"/><rect x="826" y="386" width="1" height="23" fill="#0000ff"/><rect x="824" y="396" width="5" height="2" fill="#0000ff"/><rect x="830" y="375" width="1" height="17" fill="#0000ff"/><rect x="828" y="383" width="5" height="4" fill="#0000ff"/><rect x="829" y="384" width="3" height="2" fill="#fff"/><rect x="834" y="356" width="1" height="28" fill="#0000ff"/><rect x="832" y="359" width="5" height="22" fill="#0000ff"/><rect x="833" y="360" width="3" height="20" fill="#fff"/><rect x="838" y="345" width="1" height="23" fill="#0000ff"/><rect x="836" y="353" width="5" height="12" fill="#0000ff"/><rect x="837" y="354" width="3" height="10" fill="#fff"/><rect x="842" y="349" width="1" height="23" fill="#0000ff"/><rect x="840" y="355" width="5" height="8" fill="#0000ff"/><rect x="846" y="362" width="1" height="43" fill="#0000ff"/><rect x="844" y="365" width="5" height="33" fill="#0000ff"/><rect x="850" y="349" width="1" height="47" fill="#0000ff"/><rect x="848" y="353" width="5" height="40" fill="#0000ff"/><rect x="849" y="354" width="3" height="38" fill="#fff"/><rect x="854" y="328" width="1" height="27" fill="#0000ff"/><rect x="852" y="339" width="5" height="13" fill="#0000ff"/><rect x="853" y="340" width="3" height="11" fill="#fff"/><rect x="858" y="331" width="1" height="18" fill="#0000ff"/><rect x="856" y="334" width="5" height="12" fill="#0000ff"/><rect x="862" y="327" width="1" height="18" fill="#0000ff"/><rect x="860" y="330" width="5" height="12" fill="#0000ff"/><rect x="861" y="331" width="3" height="10" fill="#fff"/><rect x="866" y="317" width="1" height="20" fill="#0000ff"/><rect x="864" y="320" width="5" height="10" fill="#0000ff"/><rect x="865" y="321" width="3" height="8" fill="#fff"/><rect x="870" y="316" width="1" height="15" fill="#0000ff"/><rect x="868" y="320" width="5" height="6" fill="#0000ff"/><rect x="869" y="321" width="3" height="4" fill="#fff"/><rect x="874" y="315" width="1" height="18" fill="#0000ff"/><rect x="872" y="318" width="5" height="8" fill="#0000ff"/><rect x="873" y="319" width="3" height="6" fill="#fff"/><rect x="878" y="314" width="1" height="16" fill="#0000ff"/><rect x="876" y="318" width="5" height="4" fill="#0000ff"/><rect x="877" y="319" width="3" height="2" fill="#fff"/><rect x="882" y="305" width="1" height="13" fill="#0000ff"/><rect x="880" y="308" width="5" height="6" fill="#0000ff"/><rect x="881" y="309" width="3" height="4" fill="#fff"/><rect x="886" y="292" width="1" height="18" fill="#0000ff"/><rect x="884" y="295" width="5" height="11" fill="#0000ff"/><rect x="885" y="296" width="3" height="9" fill="#fff"/><rect x="890" y="293" width="1" height="17" fill="#0000ff"/><rect x="888" y="297" width="5" height="9" fill="#0000ff"/><rect x="894" y="284" width="1" height="22" fill="#0000ff"/><rect x="892" y="287" width="5" height="15" fill="#0000ff"/><rect x="893" y="288" width="3" height="13" fill="#fff"/><rect x="898" y="284" width="1" height="34" fill="#0000ff"/><rect x="896" y="287" width="5" height="27" fill="#0000ff"/><rect x="902" y="291" width="1" height="25" fill="#0000ff"/><rect x="900" y="300" width="5" height="12" fill="#0000ff"/><rect x="901" y="301" width="3" height="10" fill="#fff"/><rect x="906" y="274" width="1" height="24" fill="#0000ff"/><rect x="904" y="277" width="5" height="18" fill="#0000ff"/><rect x="905" y="278" width="3" height="16" fill="#fff"/><rect x="910" y="270" width="1" height="14" fill="#0000ff"/><rect x="908" y="273" width="5" height="6" fill="#0000ff"/><rect x="909" y="274" width="3" height="4" fill="#fff"/><rect x="914" y="276" width="1" height="22" fill="#0000ff"/><rect x="912" y="281" width="5" height="14" fill="#0000ff"/><rect x="918" y="282" width="1" height="32" fill="#0000ff"/><rect x="916" y="295" width="5" height="4" fill="#0000ff"/><rect x="922" y="270" width="1" height="28" fill="#0000ff"/><rect x="920" y="273" width="5" height="22" fill="#0000ff"/><rect x="921" y="274" width="3" height="20" fill="#fff"/><rect x="926" y="270" width="1" height="15" fill="#0000ff"/><rect x="924" y="273" width="5" height="6" fill="#0000ff"/><rect x="930" y="264" width="1" height="17" fill="#0000ff"/><rect x="928" y="267" width="5" height="10" fill="#0000ff"/><rect x="929" y="268" width="3" height="8" fill="#fff"/><rect x="934" y="256" width="1" height="15" fill="#0000ff"/><rect x="932" y="260" width="5" height="7" fill="#0000ff"/><rect x="933" y="261" width="3" height="5" fill="#fff"/><rect x="938" y="237" width="1" height="22" fill="#0000ff"/><rect x="936" y="240" width="5" height="16" fill="#0000ff"/><rect x="937" y="241" width="3" height="14" fill="#fff"/><rect x="942" y="226" width="1" height="16" fill="#0000ff"/><rect x="940" y="228" width="5" height="10" fill="#0000ff"/><rect x="941" y="229" width="3" height="8" fill="#fff"/><rect x="946" y="219" width="1" height="14" fill="#0000ff"/><rect x="944" y="222" width="5" height="6" fill="#0000ff"/><rect x="945" y="223" width="3" height="4" fill="#fff"/><rect x="950" y="217" width="1" height="14" fill="#0000ff"/><rect x="948" y="220" width="5" height="6" fill="#0000ff"/><rect x="949" y="221" width="3" height="4" fill="#fff"/><rect x="954" y="216" width="1" height="16" fill="#0000ff"/><rect x="952" y="220" width="5" height="8" fill="#0000ff"/><rect x="958" y="222" width="1" height="28" fill="#0000ff"/><rect x="956" y="226" width="5" height="8" fill="#0000ff"/><rect x="962" y="222" width="1" height="24" fill="#0000ff"/><rect x="960" y="226" width="5" height="8" fill="#0000ff"/><rect x="961" y="227" width="3" height="6" fill="#fff"/><rect x="966" y="221" width="1" height="15" fill="#0000ff"/><rect x="964" y="224" width="5" height="8" fill="#0000ff"/><rect x="965" y="225" width="3" height="6" fill="#fff"/><rect x="970" y="215" width="1" height="14" fill="#0000ff"/><rect x="968" y="218" width="5" height="4" fill="#0000ff"/><rect x="969" y="219" width="3" height="2" fill="#fff"/><rect x="974" y="215" width="1" height="21" fill="#0000ff"/><rect x="972" y="218" width="5" height="14" fill="#0000ff"/><rect x="978" y="213" width="1" height="21" fill="#0000ff"/><rect x="976" y="216" width="5" height="14" fill="#0000ff"/><rect x="977" y="217" width="3" height="12" fill="#fff"/><rect x="982" y="204" width="1" height="16" fill="#0000ff"/><rect x="980" y="207" width="5" height="9" fill="#0000ff"/><rect x="981" y="208" width="3" height="7" fill="#fff"/><rect x="986" y="192" width="1" height="20" fill="#0000ff"/><rect x="984" y="195" width="5" height="13" fill="#0000ff"/><rect x="985" y="196" width="3" height="11" fill="#fff"/><rect x="990" y="192" width="1" height="19" fill="#0000ff"/><rect x="988" y="195" width="5" height="12" fill="#0000ff"/><rect x="989" y="196" width="3" height="10" fill="#fff"/><rect x="994" y="184" width="1" height="32" fill="#0000ff"/><rect x="992" y="187" width="5" height="18" fill="#0000ff"/><rect x="993" y="188" width="3" height="16" fill="#fff"/><rect x="998" y="184" width="1" height="14" fill="#0000ff"/><rect x="996" y="187" width="5" height="6" fill="#0000ff"/><rect x="997" y="188" width="3" height="4" fill="#fff"/><rect x="1002" y="182" width="1" height="12" fill="#0000ff"/><rect x="1000" y="185" width="5" height="4" fill="#0000ff"/><rect x="1001" y="186" width="3" height="2" fill="#fff"/><rect x="1006" y="178" width="1" height="14" fill="#0000ff"/><rect x="1004" y="181" width="5" height="6" fill="#0000ff"/><rect x="1005" y="182" width="3" height="4" fill="#fff"/><rect x="1010" y="172" width="1" height="14" fill="#0000ff"/><rect x="1008" y="175" width="5" height="6" fill="#0000ff"/><rect x="1009" y="176" width="3" height="4" fill="#fff"/><rect x="1014" y="172" width="1" height="12" fill="#0000ff"/><rect x="1012" y="175" width="5" height="4" fill="#0000ff"/><rect x="1013" y="176" width="3" height="2" fill="#fff"/><rect x="1018" y="162" width="1" height="18" fill="#0000ff"/><rect x="1016" y="166" width="5" height="11" fill="#0000ff"/><rect x="1017" y="167" width="3" height="9" fill="#fff"/><rect x="1022" y="160" width="1" height="15" fill="#0000ff"/><rect x="1020" y="164" width="5" height="7" fill="#0000ff"/><rect x="1026" y="162" width="1" height="21" fill="#0000ff"/><rect x="1024" y="166" width="5" height="13" fill="#0000ff"/><rect x="1030" y="171" width="1" height="17" fill="#0000ff"/><rect x="1028" y="175" width="5" height="8" fill="#0000ff"/><rect x="1034" y="177" width="1" height="30" fill="#0000ff"/><rect x="1032" y="181" width="5" height="18" fill="#0000ff"/><rect x="1038" y="179" width="1" height="28" fill="#0000ff"/><rect x="1036" y="183" width="5" height="16" fill="#0000ff"/><rect x="1042" y="173" width="1" height="37" fill="#0000ff"/><rect x="1040" y="189" width="5" height="10" fill="#0000ff"/><rect x="1041" y="190" width="3" height="8" fill="#fff"/><rect x="1046" y="172" width="1" height="28" fill="#0000ff"/><rect x="1044" y="175" width="5" height="18" fill="#0000ff"/><rect x="1045" y="176" width="3" height="16" fill="#fff"/><rect x="1050" y="158" width="1" height="21" fill="#0000ff"/><rect x="1048" y="162" width="5" height="13" fill="#0000ff"/><rect x="1049" y="163" width="3" height="11" fill="#fff"/><rect x="1054" y="146" width="1" height="17" fill="#0000ff"/><rect x="1052" y="150" width="5" height="10" fill="#0000ff"/><rect x="1053" y="151" width="3" height="8" fill="#fff"/><rect x="1058" y="127" width="1" height="26" fill="#0000ff"/><rect x="1056" y="130" width="5" height="20" fill="#0000ff"/><rect x="1057" y="131" width="3" height="18" fill="#fff"/><rect x="1062" y="128" width="1" height="12" fill="#0000ff"/><rect x="1060" y="132" width="5" height="4" fill="#0000ff"/><rect x="1061" y="133" width="3" height="2" fill="#fff"/><rect x="1066" y="127" width="1" height="14" fill="#0000ff"/><rect x="1064" y="132" width="5" height="4" fill="#0000ff"/><rect x="1065" y="133" width="3" height="2" fill="#fff"/><rect x="1070" y="122" width="1" height="33" fill="#0000ff"/><rect x="1068" y="130" width="5" height="22" fill="#0000ff"/><rect x="1074" y="140" width="1" height="29" fill="#0000ff"/><rect x="1072" y="144" width="5" height="18" fill="#0000ff"/><rect x="1078" y="126" width="1" height="37" fill="#0000ff"/><rect x="1076" y="130" width="5" height="30" fill="#0000ff"/><rect x="1077" y="131" width="3" height="28" fill="#fff"/></g>
<polyline fill="none" stroke="#303030" stroke-width="1.2"  points="350,345 421,386.5 639,412"/><line x1="639" y1="412" x2="625.7" y2="405.1" stroke="#303030" stroke-width="1.2" /><line x1="639" y1="412" x2="624.4" y2="415.6" stroke="#303030" stroke-width="1.2" />
<polyline fill="none" stroke="#303030" stroke-width="1.2"  points="200,427.6 253.5,481"/><line x1="253.5" y1="481" x2="247.7" y2="468.3" stroke="#303030" stroke-width="1.2" /><line x1="253.5" y1="481" x2="240.7" y2="475.2" stroke="#303030" stroke-width="1.2" />
<polyline fill="none" stroke="#303030" stroke-width="1.2"  points="249,409 383,458"/><line x1="383" y1="458" x2="372.4" y2="448.9" stroke="#303030" stroke-width="1.2" /><line x1="383" y1="458" x2="369" y2="458.1" stroke="#303030" stroke-width="1.2" />
<polyline fill="none" stroke="#303030" stroke-width="1.2"  points="822,305 856,322"/><line x1="856" y1="322" x2="846.5" y2="311.7" stroke="#303030" stroke-width="1.2" /><line x1="856" y1="322" x2="842.1" y2="320.6" stroke="#303030" stroke-width="1.2" />
<polyline fill="none" stroke="#303030" stroke-width="1.2"  points="882,230 927,234"/><line x1="927" y1="234" x2="914.4" y2="227.9" stroke="#303030" stroke-width="1.2" /><line x1="927" y1="234" x2="913.5" y2="237.8" stroke="#303030" stroke-width="1.2" />
<polyline fill="none" stroke="#303030" stroke-width="1.2"  points="966,157.6 1011,164.7"/><line x1="1011" y1="164.7" x2="998.8" y2="157.8" stroke="#303030" stroke-width="1.2" /><line x1="1011" y1="164.7" x2="997.3" y2="167.5" stroke="#303030" stroke-width="1.2" />
<polyline fill="none" stroke="#303030" stroke-width="1.2"  points="966,149 1047.7,133.4"/><line x1="1047.7" y1="133.4" x2="1033.9" y2="131" stroke="#303030" stroke-width="1.2" /><line x1="1047.7" y1="133.4" x2="1035.8" y2="140.7" stroke="#303030" stroke-width="1.2" />
<polyline fill="none" stroke="#303030" stroke-width="1.2"  points="77,538 148,548"/><line x1="148" y1="548" x2="139.2" y2="543.2" stroke="#303030" stroke-width="1.2" /><line x1="148" y1="548" x2="138.2" y2="550.2" stroke="#303030" stroke-width="1.2" />
<g font-family="'Liberation Sans',Arial,sans-serif" font-weight="bold" fill="#000"><text x="162" y="321" font-size="13.33">Acceleration above long term rising</text><text x="162" y="337" font-size="13.33">trend line from 2014-15 peaks</text><text x="162" y="353" font-size="13.33">becomes unsustainable.</text><text x="162" y="385" font-size="13.33">Initial rebounds are also</text><text x="162" y="401" font-size="13.33">unsustainable until break</text><text x="162" y="417" font-size="13.33">of triangle</text><text x="79" y="369" font-size="13.33">ru</text><text x="73" y="385" font-size="13.33">n lines from</text><text x="77" y="401" font-size="13.33">er 2000</text><text x="438" y="371" font-size="13.33" textLength="228.500" lengthAdjust="spacingAndGlyphs">Rising trend line from 2012-14 peaks</text><text x="638" y="297" font-size="13.33">Breaking out above trend line</text><text x="790" y="234" font-size="13.33">Outside move</text><text x="874" y="163" font-size="13.33">Outside move</text><text x="1046" y="480" font-size="13.33">New small T</text><text x="987" y="560" font-size="13.33">Small T</text><text x="322" y="668" font-size="13.33">Large T structure</text><text x="490" y="662" font-size="13.33">Series of large T structures</text><text x="490" y="678" font-size="13.33">supporting each other into</text><text x="490" y="694" font-size="13.33">late Jan / early Feb</text><text x="782" y="652" font-size="13.33">T structure projected a high for mid July</text><text x="782" y="668" font-size="13.33">followed by highs for early August and</text><text x="782" y="684" font-size="13.33">then into mid September 2021</text></g></g>
<g clip-path="url(#c2)"><g shape-rendering="crispEdges" fill="#0000ff"><rect x="78" y="796" width="1" height="24"/><rect x="82" y="794" width="1" height="26"/><rect x="86" y="793" width="1" height="27"/><rect x="90" y="792" width="1" height="28"/><rect x="94" y="790" width="1" height="30"/><rect x="98" y="789" width="1" height="31"/><rect x="102" y="788" width="1" height="32"/><rect x="106" y="789" width="1" height="31"/><rect x="110" y="790" width="1" height="30"/><rect x="114" y="791" width="1" height="29"/><rect x="118" y="793" width="1" height="27"/><rect x="122" y="794" width="1" height="26"/><rect x="126" y="795" width="1" height="25"/><rect x="130" y="795" width="1" height="25"/><rect x="134" y="795" width="1" height="25"/><rect x="138" y="795" width="1" height="25"/><rect x="142" y="795" width="1" height="25"/><rect x="146" y="795" width="1" height="25"/><rect x="150" y="795" width="1" height="25"/><rect x="154" y="796" width="1" height="24"/><rect x="158" y="796" width="1" height="24"/><rect x="162" y="797" width="1" height="23"/><rect x="166" y="798" width="1" height="22"/><rect x="170" y="798" width="1" height="22"/><rect x="174" y="799" width="1" height="21"/><rect x="178" y="800" width="1" height="20"/><rect x="182" y="800" width="1" height="20"/><rect x="186" y="801" width="1" height="19"/><rect x="190" y="801" width="1" height="19"/><rect x="194" y="802" width="1" height="18"/><rect x="198" y="803" width="1" height="17"/><rect x="202" y="803" width="1" height="17"/><rect x="206" y="803" width="1" height="17"/><rect x="210" y="801" width="1" height="19"/><rect x="214" y="800" width="1" height="20"/><rect x="218" y="799" width="1" height="21"/><rect x="222" y="798" width="1" height="22"/><rect x="226" y="796" width="1" height="24"/><rect x="230" y="795" width="1" height="25"/><rect x="234" y="794" width="1" height="26"/><rect x="238" y="792" width="1" height="28"/><rect x="242" y="791" width="1" height="29"/><rect x="246" y="790" width="1" height="30"/><rect x="250" y="788" width="1" height="32"/><rect x="254" y="785" width="1" height="35"/><rect x="258" y="783" width="1" height="37"/><rect x="262" y="780" width="1" height="40"/><rect x="266" y="778" width="1" height="42"/><rect x="270" y="775" width="1" height="45"/><rect x="274" y="773" width="1" height="47"/><rect x="278" y="774" width="1" height="46"/><rect x="282" y="776" width="1" height="44"/><rect x="286" y="779" width="1" height="41"/><rect x="290" y="781" width="1" height="39"/><rect x="294" y="784" width="1" height="36"/><rect x="298" y="788" width="1" height="32"/><rect x="302" y="793" width="1" height="27"/><rect x="306" y="797" width="1" height="23"/><rect x="310" y="802" width="1" height="18"/><rect x="314" y="805" width="1" height="15"/><rect x="318" y="808" width="1" height="12"/><rect x="322" y="811" width="1" height="9"/><rect x="326" y="814" width="1" height="6"/><rect x="330" y="817" width="1" height="3"/><rect x="334" y="818" width="1" height="2"/><rect x="338" y="817" width="1" height="3"/><rect x="342" y="815" width="1" height="5"/><rect x="346" y="814" width="1" height="6"/><rect x="350" y="813" width="1" height="7"/><rect x="354" y="811" width="1" height="9"/><rect x="358" y="810" width="1" height="10"/><rect x="362" y="809" width="1" height="11"/><rect x="366" y="807" width="1" height="13"/><rect x="370" y="806" width="1" height="14"/><rect x="374" y="805" width="1" height="15"/><rect x="378" y="803" width="1" height="17"/><rect x="382" y="802" width="1" height="18"/><rect x="386" y="800" width="1" height="20"/><rect x="390" y="798" width="1" height="22"/><rect x="394" y="796" width="1" height="24"/><rect x="398" y="795" width="1" height="25"/><rect x="402" y="793" width="1" height="27"/><rect x="406" y="791" width="1" height="29"/><rect x="410" y="789" width="1" height="31"/><rect x="414" y="787" width="1" height="33"/><rect x="418" y="790" width="1" height="30"/><rect x="422" y="794" width="1" height="26"/><rect x="426" y="798" width="1" height="22"/><rect x="430" y="802" width="1" height="18"/><rect x="434" y="807" width="1" height="13"/><rect x="438" y="814" width="1" height="6"/><rect x="442" y="819" width="1" height="1"/><rect x="446" y="820" width="1" height="5"/><rect x="450" y="820" width="1" height="10"/><rect x="454" y="820" width="1" height="15"/><rect x="458" y="820" width="1" height="21"/><rect x="462" y="820" width="1" height="27"/><rect x="466" y="820" width="1" height="33"/><rect x="470" y="820" width="1" height="39"/><rect x="474" y="820" width="1" height="40"/><rect x="478" y="820" width="1" height="41"/><rect x="482" y="820" width="1" height="41"/><rect x="486" y="820" width="1" height="42"/><rect x="490" y="820" width="1" height="35"/><rect x="494" y="820" width="1" height="27"/><rect x="498" y="820" width="1" height="21"/><rect x="502" y="820" width="1" height="14"/><rect x="506" y="820" width="1" height="8"/><rect x="510" y="820" width="1" height="2"/><rect x="514" y="814" width="1" height="6"/><rect x="518" y="806" width="1" height="14"/><rect x="522" y="801" width="1" height="19"/><rect x="526" y="798" width="1" height="22"/><rect x="530" y="796" width="1" height="24"/><rect x="534" y="794" width="1" height="26"/><rect x="538" y="791" width="1" height="29"/><rect x="542" y="789" width="1" height="31"/><rect x="546" y="786" width="1" height="34"/><rect x="550" y="787" width="1" height="33"/><rect x="554" y="788" width="1" height="32"/><rect x="558" y="789" width="1" height="31"/><rect x="562" y="790" width="1" height="30"/><rect x="566" y="790" width="1" height="30"/><rect x="570" y="788" width="1" height="32"/><rect x="574" y="785" width="1" height="35"/><rect x="578" y="783" width="1" height="37"/><rect x="582" y="781" width="1" height="39"/><rect x="586" y="778" width="1" height="42"/><rect x="590" y="781" width="1" height="39"/><rect x="594" y="784" width="1" height="36"/><rect x="598" y="787" width="1" height="33"/><rect x="602" y="790" width="1" height="30"/><rect x="606" y="793" width="1" height="27"/><rect x="610" y="796" width="1" height="24"/><rect x="614" y="800" width="1" height="20"/><rect x="618" y="803" width="1" height="17"/><rect x="622" y="807" width="1" height="13"/><rect x="626" y="806" width="1" height="14"/><rect x="630" y="804" width="1" height="16"/><rect x="634" y="803" width="1" height="17"/><rect x="638" y="801" width="1" height="19"/><rect x="642" y="800" width="1" height="20"/><rect x="646" y="797" width="1" height="23"/><rect x="650" y="794" width="1" height="26"/><rect x="654" y="790" width="1" height="30"/><rect x="658" y="787" width="1" height="33"/><rect x="662" y="784" width="1" height="36"/><rect x="666" y="781" width="1" height="39"/><rect x="670" y="778" width="1" height="42"/><rect x="674" y="775" width="1" height="45"/><rect x="678" y="773" width="1" height="47"/><rect x="682" y="770" width="1" height="50"/><rect x="686" y="767" width="1" height="53"/><rect x="690" y="766" width="1" height="54"/><rect x="694" y="766" width="1" height="54"/><rect x="698" y="765" width="1" height="55"/><rect x="702" y="765" width="1" height="55"/><rect x="706" y="767" width="1" height="53"/><rect x="710" y="776" width="1" height="44"/><rect x="714" y="789" width="1" height="31"/><rect x="718" y="813" width="1" height="7"/><rect x="722" y="820" width="1" height="16"/><rect x="726" y="820" width="1" height="37"/><rect x="730" y="820" width="1" height="57"/><rect x="734" y="820" width="1" height="69"/><rect x="738" y="820" width="1" height="78"/><rect x="742" y="820" width="1" height="87"/><rect x="746" y="820" width="1" height="83"/><rect x="750" y="820" width="1" height="67"/><rect x="754" y="820" width="1" height="50"/><rect x="758" y="820" width="1" height="39"/><rect x="762" y="820" width="1" height="28"/><rect x="766" y="820" width="1" height="20"/><rect x="770" y="820" width="1" height="13"/><rect x="774" y="820" width="1" height="6"/><rect x="778" y="819" width="1" height="1"/><rect x="782" y="810" width="1" height="10"/><rect x="786" y="804" width="1" height="16"/><rect x="790" y="798" width="1" height="22"/><rect x="794" y="792" width="1" height="28"/><rect x="798" y="787" width="1" height="33"/><rect x="802" y="780" width="1" height="40"/><rect x="806" y="773" width="1" height="47"/><rect x="810" y="764" width="1" height="56"/><rect x="814" y="754" width="1" height="66"/><rect x="818" y="748" width="1" height="72"/><rect x="822" y="746" width="1" height="74"/><rect x="826" y="744" width="1" height="76"/><rect x="830" y="742" width="1" height="78"/><rect x="834" y="740" width="1" height="80"/><rect x="838" y="738" width="1" height="82"/><rect x="842" y="741" width="1" height="79"/><rect x="846" y="744" width="1" height="76"/><rect x="850" y="746" width="1" height="74"/><rect x="854" y="747" width="1" height="73"/><rect x="858" y="747" width="1" height="73"/><rect x="862" y="747" width="1" height="73"/><rect x="866" y="747" width="1" height="73"/><rect x="870" y="747" width="1" height="73"/><rect x="874" y="745" width="1" height="75"/><rect x="878" y="744" width="1" height="76"/><rect x="882" y="742" width="1" height="78"/><rect x="886" y="740" width="1" height="80"/><rect x="890" y="740" width="1" height="80"/><rect x="894" y="740" width="1" height="80"/><rect x="898" y="739" width="1" height="81"/><rect x="902" y="739" width="1" height="81"/><rect x="906" y="739" width="1" height="81"/><rect x="910" y="739" width="1" height="81"/><rect x="914" y="741" width="1" height="79"/><rect x="918" y="743" width="1" height="77"/><rect x="922" y="744" width="1" height="76"/><rect x="926" y="746" width="1" height="74"/><rect x="930" y="748" width="1" height="72"/><rect x="934" y="749" width="1" height="71"/><rect x="938" y="748" width="1" height="72"/><rect x="942" y="747" width="1" height="73"/><rect x="946" y="746" width="1" height="74"/><rect x="950" y="742" width="1" height="78"/><rect x="954" y="738" width="1" height="82"/><rect x="958" y="735" width="1" height="85"/><rect x="962" y="731" width="1" height="89"/><rect x="966" y="732" width="1" height="88"/><rect x="970" y="734" width="1" height="86"/><rect x="974" y="737" width="1" height="83"/><rect x="978" y="739" width="1" height="81"/><rect x="982" y="741" width="1" height="79"/><rect x="986" y="743" width="1" height="77"/><rect x="990" y="744" width="1" height="76"/><rect x="994" y="744" width="1" height="76"/><rect x="998" y="744" width="1" height="76"/><rect x="1002" y="744" width="1" height="76"/><rect x="1006" y="744" width="1" height="76"/><rect x="1010" y="744" width="1" height="76"/><rect x="1014" y="744" width="1" height="76"/><rect x="1018" y="744" width="1" height="76"/><rect x="1022" y="744" width="1" height="76"/><rect x="1026" y="745" width="1" height="75"/><rect x="1030" y="746" width="1" height="74"/><rect x="1034" y="746" width="1" height="74"/><rect x="1038" y="750" width="1" height="70"/><rect x="1042" y="758" width="1" height="62"/><rect x="1046" y="765" width="1" height="55"/><rect x="1050" y="770" width="1" height="50"/><rect x="1054" y="772" width="1" height="48"/><rect x="1058" y="775" width="1" height="45"/><rect x="1062" y="773" width="1" height="47"/><rect x="1066" y="770" width="1" height="50"/><rect x="1070" y="766" width="1" height="54"/><rect x="1074" y="763" width="1" height="57"/><rect x="1078" y="760" width="1" height="60"/></g>
<polyline fill="none" stroke="#000" stroke-width="1"  points="78,802.5 101,797.5 181,797.5 204,799.2 257,795.5 297,788.1 310,789 355,800.1 382,802.5 426,797.5 511,800.1 542,797.5 587,792.5 604,792.5 620,794.5 638,797 656,796.5 678,792.1 709,784.5 776,784.5 785,788.1 798,789 816,782.3 843,771.2 874,763.5 909,755.5 941,752.5 976,745.5 1043,746.5 1065,753.4 1079,755.5"/>
<polyline fill="none" stroke="#000" stroke-width="1"  points="78,834.5 444,834.5 457,835.5 491,843.5 508.6,838.5 715.7,838.5 731,844.5 753.6,857.5 773.6,852.5 1079,852.5"/>
<line x1="301.5" y1="784" x2="292.5" y2="764" stroke="#ff0000" stroke-width="1.5" />
<line x1="301.5" y1="784" x2="301.5" y2="764" stroke="#ff0000" stroke-width="1.5" />
<line x1="301.5" y1="784" x2="310.5" y2="764" stroke="#ff0000" stroke-width="1.5" />
<line x1="425" y1="790.7" x2="416" y2="770.7" stroke="#ff0000" stroke-width="1.5" />
<line x1="425" y1="790.7" x2="425" y2="770.7" stroke="#ff0000" stroke-width="1.5" />
<line x1="425" y1="790.7" x2="434" y2="770.7" stroke="#ff0000" stroke-width="1.5" />
<line x1="600.8" y1="784" x2="591.8" y2="764" stroke="#ff0000" stroke-width="1.5" />
<line x1="600.8" y1="784" x2="600.8" y2="764" stroke="#ff0000" stroke-width="1.5" />
<line x1="600.8" y1="784" x2="609.8" y2="764" stroke="#ff0000" stroke-width="1.5" />
<line x1="713.5" y1="773" x2="704.5" y2="753" stroke="#ff0000" stroke-width="1.5" />
<line x1="713.5" y1="773" x2="713.5" y2="753" stroke="#ff0000" stroke-width="1.5" />
<line x1="713.5" y1="773" x2="722.5" y2="753" stroke="#ff0000" stroke-width="1.5" />
<line x1="1034" y1="741" x2="1025" y2="721" stroke="#ff0000" stroke-width="1.5" />
<line x1="1034" y1="741" x2="1034" y2="721" stroke="#ff0000" stroke-width="1.5" />
<line x1="1034" y1="741" x2="1043" y2="721" stroke="#ff0000" stroke-width="1.5" />
<line x1="210" y1="823" x2="201" y2="844" stroke="#00e000" stroke-width="1.5" />
<line x1="210" y1="823" x2="210" y2="844" stroke="#00e000" stroke-width="1.5" />
<line x1="210" y1="823" x2="219" y2="844" stroke="#00e000" stroke-width="1.5" />
<line x1="337" y1="823" x2="328" y2="844" stroke="#00e000" stroke-width="1.5" />
<line x1="337" y1="823" x2="337" y2="844" stroke="#00e000" stroke-width="1.5" />
<line x1="337" y1="823" x2="346" y2="844" stroke="#00e000" stroke-width="1.5" />
<line x1="490" y1="860" x2="481" y2="881" stroke="#00e000" stroke-width="1.5" />
<line x1="490" y1="860" x2="490" y2="881" stroke="#00e000" stroke-width="1.5" />
<line x1="490" y1="860" x2="499" y2="881" stroke="#00e000" stroke-width="1.5" />
<line x1="630" y1="823" x2="621" y2="844" stroke="#00e000" stroke-width="1.5" />
<line x1="630" y1="823" x2="630" y2="844" stroke="#00e000" stroke-width="1.5" />
<line x1="630" y1="823" x2="639" y2="844" stroke="#00e000" stroke-width="1.5" />
<line x1="750" y1="903" x2="741" y2="924" stroke="#00e000" stroke-width="1.5" />
<line x1="750" y1="903" x2="750" y2="924" stroke="#00e000" stroke-width="1.5" />
<line x1="750" y1="903" x2="759" y2="924" stroke="#00e000" stroke-width="1.5" />
<text x="946" y="887" font-family="'Liberation Sans',Arial,sans-serif" font-weight="bold" font-size="13.33">Oscillator weakening</text>
<text x="78" y="734" font-family="'Liberation Sans',Arial,sans-serif" font-weight="bold" font-size="13.33">Osc 8,35</text></g>
</svg>
<div class="" style="left:1188px;top:97px;width:61px;height:618px;background:#d4d0c8;border:1px solid #000"></div><div class="" style="left:1188px;top:97px;width:61px;height:14px;background:#ffffe8;border:1px solid #000"></div><div class="ax" style="left:1189px;top:97px;width:58px;text-align:center">4852.37</div><div class="" style="left:1190px;top:169px;width:6px;height:1px;background:#000"></div><div class="ax" style="left:1197px;top:162px">4500.00</div><div class="" style="left:1190px;top:263px;width:6px;height:1px;background:#000"></div><div class="ax" style="left:1197px;top:256px">4000.00</div><div class="" style="left:1190px;top:356px;width:6px;height:1px;background:#000"></div><div class="ax" style="left:1197px;top:349px">3500.00</div><div class="" style="left:1190px;top:449px;width:6px;height:1px;background:#000"></div><div class="ax" style="left:1197px;top:442px">3000.00</div><div class="" style="left:1190px;top:543px;width:6px;height:1px;background:#000"></div><div class="ax" style="left:1197px;top:536px">2500.00</div><div class="" style="left:1190px;top:636px;width:6px;height:1px;background:#000"></div><div class="ax" style="left:1197px;top:629px">2000.00</div><div class="" style="left:1224px;top:700px;width:24px;height:15px;background:#c0c0c0;border-left:1px solid #000;"><svg width="24" height="15" viewBox="0 0 24 15"><path d="M12 2v12M4 4l8 2 8-2" stroke="#ffff00" stroke-width="2" fill="none"/><path d="M5 4l-3 7h6zM19 4l-3 7h6z" fill="#fff" stroke="#000" stroke-width=".8"/><path d="M2 11.500h6M16 11.500h6" stroke="#ffff00" stroke-width="1.500"/></svg></div><div class="" style="left:1188px;top:720px;width:61px;height:217px;background:#d4d0c8;border:1px solid #000"></div><div class="" style="left:1189px;top:813px;width:59px;height:14px;background:#ffffe8;border-top:1px solid #000;border-bottom:1px solid #000"></div><div class="ax" style="left:1189px;top:813px;width:58px;text-align:center">0</div><div class="" style="left:1249px;top:720px;width:2px;height:218px;background:#fff"></div><svg width="1280" height="983" shape-rendering="crispEdges"><rect x="1190" y="113" width="1" height="1"/><rect x="1190" y="122" width="3" height="1"/><rect x="1190" y="132" width="1" height="1"/><rect x="1190" y="141" width="1" height="1"/><rect x="1190" y="150" width="1" height="1"/><rect x="1190" y="160" width="1" height="1"/><rect x="1190" y="178" width="1" height="1"/><rect x="1190" y="188" width="1" height="1"/><rect x="1190" y="197" width="1" height="1"/><rect x="1190" y="206" width="1" height="1"/><rect x="1190" y="216" width="3" height="1"/><rect x="1190" y="225" width="1" height="1"/><rect x="1190" y="234" width="1" height="1"/><rect x="1190" y="244" width="1" height="1"/><rect x="1190" y="253" width="1" height="1"/><rect x="1190" y="272" width="1" height="1"/><rect x="1190" y="281" width="1" height="1"/><rect x="1190" y="290" width="1" height="1"/><rect x="1190" y="300" width="1" height="1"/><rect x="1190" y="309" width="3" height="1"/><rect x="1190" y="318" width="1" height="1"/><rect x="1190" y="328" width="1" height="1"/><rect x="1190" y="337" width="1" height="1"/><rect x="1190" y="346" width="1" height="1"/><rect x="1190" y="365" width="1" height="1"/><rect x="1190" y="374" width="1" height="1"/><rect x="1190" y="384" width="1" height="1"/><rect x="1190" y="393" width="1" height="1"/><rect x="1190" y="402" width="3" height="1"/><rect x="1190" y="412" width="1" height="1"/><rect x="1190" y="421" width="1" height="1"/><rect x="1190" y="431" width="1" height="1"/><rect x="1190" y="440" width="1" height="1"/><rect x="1190" y="459" width="1" height="1"/><rect x="1190" y="468" width="1" height="1"/><rect x="1190" y="477" width="1" height="1"/><rect x="1190" y="487" width="1" height="1"/><rect x="1190" y="496" width="3" height="1"/><rect x="1190" y="505" width="1" height="1"/><rect x="1190" y="515" width="1" height="1"/><rect x="1190" y="524" width="1" height="1"/><rect x="1190" y="533" width="1" height="1"/><rect x="1190" y="552" width="1" height="1"/><rect x="1190" y="561" width="1" height="1"/><rect x="1190" y="571" width="1" height="1"/><rect x="1190" y="580" width="1" height="1"/><rect x="1190" y="589" width="3" height="1"/><rect x="1190" y="599" width="1" height="1"/><rect x="1190" y="608" width="1" height="1"/><rect x="1190" y="617" width="1" height="1"/><rect x="1190" y="627" width="1" height="1"/><rect x="1190" y="645" width="1" height="1"/><rect x="1190" y="655" width="1" height="1"/><rect x="1190" y="664" width="1" height="1"/><rect x="1190" y="673" width="1" height="1"/><rect x="1190" y="683" width="3" height="1"/><rect x="1190" y="692" width="1" height="1"/><rect x="1190" y="701" width="1" height="1"/><rect x="1190" y="711" width="1" height="1"/><rect x="1190" y="738" width="1" height="1"/><rect x="1190" y="766" width="4" height="1"/><rect x="1190" y="794" width="1" height="1"/><rect x="1190" y="850" width="1" height="1"/><rect x="1190" y="878" width="4" height="1"/><rect x="1190" y="906" width="1" height="1"/><rect x="1190" y="930" width="1" height="1"/></svg>
<div class="" style="left:77px;top:715px;width:1173px;height:5px;background:linear-gradient(#c8c8c8,#fff 40%,#e8e8e8)"></div><div class="" style="left:78px;top:920px;width:1110px;height:1px;background:#000"></div><div class="" style="left:78px;top:921px;width:1110px;height:17px;background:#d4d0c8"></div><div class="" style="left:78px;top:938px;width:1172px;height:2px;background:#fff"></div><div class="b" style="left:80px;top:921px;width:16px;height:16px;"><svg width="9" height="9"><path d="M6 1v7l-4-3.500z" fill="#000"/></svg></div><div class="b" style="left:96px;top:921px;width:16px;height:16px;"><svg width="9" height="9"><path d="M3 1v7l4-3.500z" fill="#000"/></svg></div><svg width="1280" height="983"><path d="M113.5 921 L121.5 936.500 L176.0 936.500 L184.0 921" fill="#d4d0c8" stroke="#000" stroke-width="1.100"/><path d="M176.0 921 L184.0 936.500 L244.5 936.500 L252.5 921" fill="#d4d0c8" stroke="#000" stroke-width="1.100"/><path d="M299.5 921 L307.5 936.500 L340.0 936.500 L348.0 921" fill="#d4d0c8" stroke="#000" stroke-width="1.100"/><path d="M340.0 921 L348.0 936.500 L426.0 936.500 L434.0 921" fill="#d4d0c8" stroke="#000" stroke-width="1.100"/><path d="M244.5 920 L252.5 936.500 L299.5 936.500 L307.5 920" fill="#fff" stroke="#000" stroke-width="1.100"/><rect x="245.5" y="919" width="61.0" height="2" fill="#fff"/></svg><div style="left:118px;top:921px;width:62px;text-align:center;font-size:10.400px;line-height:14px;white-space:nowrap">RSI 14, 7, 3</div><div style="left:180px;top:921px;width:68px;text-align:center;font-size:10.400px;line-height:14px;white-space:nowrap">ADX/DMI 14</div><div style="left:248px;top:921px;width:55px;text-align:center;font-size:10.400px;line-height:14px;white-space:nowrap">Osc 8,35</div><div style="left:304px;top:921px;width:40px;text-align:center;font-size:10.400px;line-height:14px;white-space:nowrap">CCI 20</div><div style="left:344px;top:921px;width:86px;text-align:center;font-size:10.400px;line-height:14px;white-space:nowrap">MACD 19, 39, 9</div><div class="" style="left:77px;top:942px;width:1112px;height:20px;background:#d4d0c8;border:1px solid #000;box-shadow:inset 0 1px 0 #f4f4f0"></div><div class="" style="left:94px;top:944px;width:56px;height:16px;background:#ffffe8;border:1px solid #000"></div><div class="ax" style="left:94px;top:946px;width:56px;text-align:center">05/12/17</div><div class="" style="left:257px;top:944px;width:1px;height:17px;background:#000"></div><div class="ax" style="left:259px;top:946px">2018</div><div class="" style="left:466px;top:944px;width:1px;height:17px;background:#000"></div><div class="ax" style="left:468px;top:946px">2019</div><div class="" style="left:675px;top:944px;width:1px;height:17px;background:#000"></div><div class="ax" style="left:677px;top:946px">2020</div><div class="" style="left:883px;top:944px;width:1px;height:17px;background:#000"></div><div class="ax" style="left:885px;top:946px">2021</div><div class="" style="left:1189px;top:943px;width:61px;height:19px;background:#ffffe8;border:1px solid #fff;border-top-color:#808080;border-left-color:#808080"></div><div class="ax" style="left:1190px;top:946px;width:59px;text-align:center;color:#0000ff">#3515</div><div class="" style="left:0px;top:963px;width:1280px;height:2px;background:#f4f4f0"></div><div style="left:2px;top:967px;font-size:11.2px;line-height:15px;white-space:nowrap">For Help, press F1</div><div class="sunk" style="left:954px;top:967px;width:326px;height:16px;"></div><div style="left:957px;top:967px;font-size:11.3px;line-height:15px;white-space:nowrap">Page: 5 - ^GSPC Gann Weekly</div>
</div></body></html>
